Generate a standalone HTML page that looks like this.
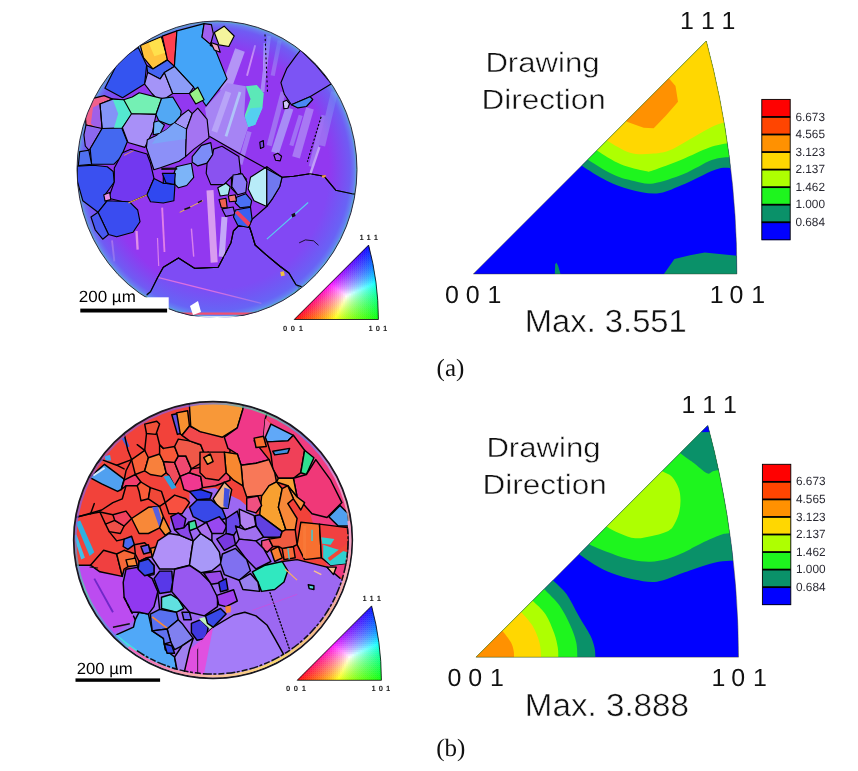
<!DOCTYPE html>
<html lang="en"><head><meta charset="utf-8"><title>EBSD IPF maps and inverse pole figures</title>
<style>
html,body{margin:0;padding:0;background:#fff;}
body{width:858px;height:771px;overflow:hidden;position:relative;}
svg{display:block;position:absolute;left:0;top:0;}
text{text-rendering:geometricPrecision;}
.sans{font-family:"Liberation Sans","DejaVu Sans",sans-serif;}
.serif{font-family:"Liberation Serif","DejaVu Serif",serif;}
</style></head><body>
<svg width="858" height="771" viewBox="0 0 858 771">
<rect x="0" y="0" width="858" height="771" fill="#ffffff"/>
<defs>
<g id="keyfill"><rect x="71" y="-76" width="2.4" height="2.4" fill="#0e00ff"/><rect x="73" y="-76" width="2.4" height="2.4" fill="#0300ff"/><rect x="75" y="-76" width="2.4" height="2.4" fill="#0008ff"/><rect x="69" y="-74" width="2.4" height="2.4" fill="#1900ff"/><rect x="71" y="-74" width="2.4" height="2.4" fill="#1100ff"/><rect x="73" y="-74" width="2.4" height="2.4" fill="#0608ff"/><rect x="75" y="-74" width="2.4" height="2.4" fill="#0012ff"/><rect x="67" y="-72" width="2.4" height="2.4" fill="#2400ff"/><rect x="69" y="-72" width="2.4" height="2.4" fill="#1c00ff"/><rect x="71" y="-72" width="2.4" height="2.4" fill="#1308ff"/><rect x="73" y="-72" width="2.4" height="2.4" fill="#0912ff"/><rect x="75" y="-72" width="2.4" height="2.4" fill="#001bff"/><rect x="65" y="-70" width="2.4" height="2.4" fill="#2e00ff"/><rect x="67" y="-70" width="2.4" height="2.4" fill="#2600ff"/><rect x="69" y="-70" width="2.4" height="2.4" fill="#1f08ff"/><rect x="71" y="-70" width="2.4" height="2.4" fill="#1613ff"/><rect x="73" y="-70" width="2.4" height="2.4" fill="#0c1cff"/><rect x="75" y="-70" width="2.4" height="2.4" fill="#0025ff"/><rect x="77" y="-70" width="2.4" height="2.4" fill="#002cff"/><rect x="63" y="-68" width="2.4" height="2.4" fill="#3800ff"/><rect x="65" y="-68" width="2.4" height="2.4" fill="#3100ff"/><rect x="67" y="-68" width="2.4" height="2.4" fill="#2908ff"/><rect x="69" y="-68" width="2.4" height="2.4" fill="#2113ff"/><rect x="71" y="-68" width="2.4" height="2.4" fill="#191dff"/><rect x="73" y="-68" width="2.4" height="2.4" fill="#0f25ff"/><rect x="75" y="-68" width="2.4" height="2.4" fill="#032dff"/><rect x="77" y="-68" width="2.4" height="2.4" fill="#0035ff"/><rect x="61" y="-66" width="2.4" height="2.4" fill="#4200ff"/><rect x="63" y="-66" width="2.4" height="2.4" fill="#3b00ff"/><rect x="65" y="-66" width="2.4" height="2.4" fill="#3408ff"/><rect x="67" y="-66" width="2.4" height="2.4" fill="#2c14ff"/><rect x="69" y="-66" width="2.4" height="2.4" fill="#241dff"/><rect x="71" y="-66" width="2.4" height="2.4" fill="#1c26ff"/><rect x="73" y="-66" width="2.4" height="2.4" fill="#122fff"/><rect x="75" y="-66" width="2.4" height="2.4" fill="#0736ff"/><rect x="77" y="-66" width="2.4" height="2.4" fill="#003eff"/><rect x="59" y="-64" width="2.4" height="2.4" fill="#4c00ff"/><rect x="61" y="-64" width="2.4" height="2.4" fill="#4500ff"/><rect x="63" y="-64" width="2.4" height="2.4" fill="#3e09ff"/><rect x="65" y="-64" width="2.4" height="2.4" fill="#3714ff"/><rect x="67" y="-64" width="2.4" height="2.4" fill="#2f1eff"/><rect x="69" y="-64" width="2.4" height="2.4" fill="#2727ff"/><rect x="71" y="-64" width="2.4" height="2.4" fill="#1e30ff"/><rect x="73" y="-64" width="2.4" height="2.4" fill="#1538ff"/><rect x="75" y="-64" width="2.4" height="2.4" fill="#0a40ff"/><rect x="77" y="-64" width="2.4" height="2.4" fill="#0047ff"/><rect x="57" y="-62" width="2.4" height="2.4" fill="#5600ff"/><rect x="59" y="-62" width="2.4" height="2.4" fill="#4f00ff"/><rect x="61" y="-62" width="2.4" height="2.4" fill="#4809ff"/><rect x="63" y="-62" width="2.4" height="2.4" fill="#4115ff"/><rect x="65" y="-62" width="2.4" height="2.4" fill="#3a1fff"/><rect x="67" y="-62" width="2.4" height="2.4" fill="#3228ff"/><rect x="69" y="-62" width="2.4" height="2.4" fill="#2a31ff"/><rect x="71" y="-62" width="2.4" height="2.4" fill="#2139ff"/><rect x="73" y="-62" width="2.4" height="2.4" fill="#1841ff"/><rect x="75" y="-62" width="2.4" height="2.4" fill="#0d49ff"/><rect x="77" y="-62" width="2.4" height="2.4" fill="#0050ff"/><rect x="79" y="-62" width="2.4" height="2.4" fill="#0058ff"/><rect x="55" y="-60" width="2.4" height="2.4" fill="#6000ff"/><rect x="57" y="-60" width="2.4" height="2.4" fill="#5a00ff"/><rect x="59" y="-60" width="2.4" height="2.4" fill="#5309ff"/><rect x="61" y="-60" width="2.4" height="2.4" fill="#4c15ff"/><rect x="63" y="-60" width="2.4" height="2.4" fill="#4520ff"/><rect x="65" y="-60" width="2.4" height="2.4" fill="#3d29ff"/><rect x="67" y="-60" width="2.4" height="2.4" fill="#3532ff"/><rect x="69" y="-60" width="2.4" height="2.4" fill="#2d3bff"/><rect x="71" y="-60" width="2.4" height="2.4" fill="#2443ff"/><rect x="73" y="-60" width="2.4" height="2.4" fill="#1b4bff"/><rect x="75" y="-60" width="2.4" height="2.4" fill="#1052ff"/><rect x="77" y="-60" width="2.4" height="2.4" fill="#015aff"/><rect x="79" y="-60" width="2.4" height="2.4" fill="#0061ff"/><rect x="53" y="-58" width="2.4" height="2.4" fill="#6b00ff"/><rect x="55" y="-58" width="2.4" height="2.4" fill="#6500ff"/><rect x="57" y="-58" width="2.4" height="2.4" fill="#5e09ff"/><rect x="59" y="-58" width="2.4" height="2.4" fill="#5716ff"/><rect x="61" y="-58" width="2.4" height="2.4" fill="#5021ff"/><rect x="63" y="-58" width="2.4" height="2.4" fill="#482aff"/><rect x="65" y="-58" width="2.4" height="2.4" fill="#4034ff"/><rect x="67" y="-58" width="2.4" height="2.4" fill="#383cff"/><rect x="69" y="-58" width="2.4" height="2.4" fill="#3045ff"/><rect x="71" y="-58" width="2.4" height="2.4" fill="#274dff"/><rect x="73" y="-58" width="2.4" height="2.4" fill="#1d55ff"/><rect x="75" y="-58" width="2.4" height="2.4" fill="#135cff"/><rect x="77" y="-58" width="2.4" height="2.4" fill="#0564ff"/><rect x="79" y="-58" width="2.4" height="2.4" fill="#006bff"/><rect x="51" y="-56" width="2.4" height="2.4" fill="#7600ff"/><rect x="53" y="-56" width="2.4" height="2.4" fill="#7000ff"/><rect x="55" y="-56" width="2.4" height="2.4" fill="#690aff"/><rect x="57" y="-56" width="2.4" height="2.4" fill="#6217ff"/><rect x="59" y="-56" width="2.4" height="2.4" fill="#5b22ff"/><rect x="61" y="-56" width="2.4" height="2.4" fill="#532cff"/><rect x="63" y="-56" width="2.4" height="2.4" fill="#4c35ff"/><rect x="65" y="-56" width="2.4" height="2.4" fill="#443eff"/><rect x="67" y="-56" width="2.4" height="2.4" fill="#3c47ff"/><rect x="69" y="-56" width="2.4" height="2.4" fill="#334fff"/><rect x="71" y="-56" width="2.4" height="2.4" fill="#2a57ff"/><rect x="73" y="-56" width="2.4" height="2.4" fill="#205fff"/><rect x="75" y="-56" width="2.4" height="2.4" fill="#1667ff"/><rect x="77" y="-56" width="2.4" height="2.4" fill="#096eff"/><rect x="79" y="-56" width="2.4" height="2.4" fill="#0076ff"/><rect x="49" y="-54" width="2.4" height="2.4" fill="#8200ff"/><rect x="51" y="-54" width="2.4" height="2.4" fill="#7b00ff"/><rect x="53" y="-54" width="2.4" height="2.4" fill="#740aff"/><rect x="55" y="-54" width="2.4" height="2.4" fill="#6d17ff"/><rect x="57" y="-54" width="2.4" height="2.4" fill="#6623ff"/><rect x="59" y="-54" width="2.4" height="2.4" fill="#5f2dff"/><rect x="61" y="-54" width="2.4" height="2.4" fill="#5737ff"/><rect x="63" y="-54" width="2.4" height="2.4" fill="#5040ff"/><rect x="65" y="-54" width="2.4" height="2.4" fill="#4849ff"/><rect x="67" y="-54" width="2.4" height="2.4" fill="#3f51ff"/><rect x="69" y="-54" width="2.4" height="2.4" fill="#365aff"/><rect x="71" y="-54" width="2.4" height="2.4" fill="#2d62ff"/><rect x="73" y="-54" width="2.4" height="2.4" fill="#236aff"/><rect x="75" y="-54" width="2.4" height="2.4" fill="#1872ff"/><rect x="77" y="-54" width="2.4" height="2.4" fill="#0c79ff"/><rect x="79" y="-54" width="2.4" height="2.4" fill="#0081ff"/><rect x="47" y="-52" width="2.4" height="2.4" fill="#8e00ff"/><rect x="49" y="-52" width="2.4" height="2.4" fill="#8700ff"/><rect x="51" y="-52" width="2.4" height="2.4" fill="#800aff"/><rect x="53" y="-52" width="2.4" height="2.4" fill="#7918ff"/><rect x="55" y="-52" width="2.4" height="2.4" fill="#7224ff"/><rect x="57" y="-52" width="2.4" height="2.4" fill="#6b2eff"/><rect x="59" y="-52" width="2.4" height="2.4" fill="#6338ff"/><rect x="61" y="-52" width="2.4" height="2.4" fill="#5c42ff"/><rect x="63" y="-52" width="2.4" height="2.4" fill="#544bff"/><rect x="65" y="-52" width="2.4" height="2.4" fill="#4b54ff"/><rect x="67" y="-52" width="2.4" height="2.4" fill="#435cff"/><rect x="69" y="-52" width="2.4" height="2.4" fill="#3a65ff"/><rect x="71" y="-52" width="2.4" height="2.4" fill="#306dff"/><rect x="73" y="-52" width="2.4" height="2.4" fill="#2675ff"/><rect x="75" y="-52" width="2.4" height="2.4" fill="#1b7dff"/><rect x="77" y="-52" width="2.4" height="2.4" fill="#0f85ff"/><rect x="79" y="-52" width="2.4" height="2.4" fill="#008cff"/><rect x="81" y="-52" width="2.4" height="2.4" fill="#0094ff"/><rect x="45" y="-50" width="2.4" height="2.4" fill="#9a00ff"/><rect x="47" y="-50" width="2.4" height="2.4" fill="#9400ff"/><rect x="49" y="-50" width="2.4" height="2.4" fill="#8d0aff"/><rect x="51" y="-50" width="2.4" height="2.4" fill="#8619ff"/><rect x="53" y="-50" width="2.4" height="2.4" fill="#7f25ff"/><rect x="55" y="-50" width="2.4" height="2.4" fill="#7730ff"/><rect x="57" y="-50" width="2.4" height="2.4" fill="#703aff"/><rect x="59" y="-50" width="2.4" height="2.4" fill="#6844ff"/><rect x="61" y="-50" width="2.4" height="2.4" fill="#604dff"/><rect x="63" y="-50" width="2.4" height="2.4" fill="#5856ff"/><rect x="65" y="-50" width="2.4" height="2.4" fill="#4f5fff"/><rect x="67" y="-50" width="2.4" height="2.4" fill="#4768ff"/><rect x="69" y="-50" width="2.4" height="2.4" fill="#3d70ff"/><rect x="71" y="-50" width="2.4" height="2.4" fill="#3479ff"/><rect x="73" y="-50" width="2.4" height="2.4" fill="#2a81ff"/><rect x="75" y="-50" width="2.4" height="2.4" fill="#1e89ff"/><rect x="77" y="-50" width="2.4" height="2.4" fill="#1291ff"/><rect x="79" y="-50" width="2.4" height="2.4" fill="#0098ff"/><rect x="81" y="-50" width="2.4" height="2.4" fill="#00a0ff"/><rect x="43" y="-48" width="2.4" height="2.4" fill="#a700ff"/><rect x="45" y="-48" width="2.4" height="2.4" fill="#a100ff"/><rect x="47" y="-48" width="2.4" height="2.4" fill="#9a0bff"/><rect x="49" y="-48" width="2.4" height="2.4" fill="#9319ff"/><rect x="51" y="-48" width="2.4" height="2.4" fill="#8c26ff"/><rect x="53" y="-48" width="2.4" height="2.4" fill="#8431ff"/><rect x="55" y="-48" width="2.4" height="2.4" fill="#7d3cff"/><rect x="57" y="-48" width="2.4" height="2.4" fill="#7546ff"/><rect x="59" y="-48" width="2.4" height="2.4" fill="#6d50ff"/><rect x="61" y="-48" width="2.4" height="2.4" fill="#6559ff"/><rect x="63" y="-48" width="2.4" height="2.4" fill="#5c62ff"/><rect x="65" y="-48" width="2.4" height="2.4" fill="#546bff"/><rect x="67" y="-48" width="2.4" height="2.4" fill="#4b74ff"/><rect x="69" y="-48" width="2.4" height="2.4" fill="#417dff"/><rect x="71" y="-48" width="2.4" height="2.4" fill="#3785ff"/><rect x="73" y="-48" width="2.4" height="2.4" fill="#2d8dff"/><rect x="75" y="-48" width="2.4" height="2.4" fill="#2195ff"/><rect x="77" y="-48" width="2.4" height="2.4" fill="#159dff"/><rect x="79" y="-48" width="2.4" height="2.4" fill="#05a5ff"/><rect x="81" y="-48" width="2.4" height="2.4" fill="#00adff"/><rect x="41" y="-46" width="2.4" height="2.4" fill="#b500ff"/><rect x="43" y="-46" width="2.4" height="2.4" fill="#ae00ff"/><rect x="45" y="-46" width="2.4" height="2.4" fill="#a70bff"/><rect x="47" y="-46" width="2.4" height="2.4" fill="#a01aff"/><rect x="49" y="-46" width="2.4" height="2.4" fill="#9927ff"/><rect x="51" y="-46" width="2.4" height="2.4" fill="#9233ff"/><rect x="53" y="-46" width="2.4" height="2.4" fill="#8a3eff"/><rect x="55" y="-46" width="2.4" height="2.4" fill="#8249ff"/><rect x="57" y="-46" width="2.4" height="2.4" fill="#7a53ff"/><rect x="59" y="-46" width="2.4" height="2.4" fill="#725cff"/><rect x="61" y="-46" width="2.4" height="2.4" fill="#6a66ff"/><rect x="63" y="-46" width="2.4" height="2.4" fill="#616fff"/><rect x="65" y="-46" width="2.4" height="2.4" fill="#5878ff"/><rect x="67" y="-46" width="2.4" height="2.4" fill="#4f81ff"/><rect x="69" y="-46" width="2.4" height="2.4" fill="#458aff"/><rect x="71" y="-46" width="2.4" height="2.4" fill="#3b92ff"/><rect x="73" y="-46" width="2.4" height="2.4" fill="#309bff"/><rect x="75" y="-46" width="2.4" height="2.4" fill="#25a3ff"/><rect x="77" y="-46" width="2.4" height="2.4" fill="#18abff"/><rect x="79" y="-46" width="2.4" height="2.4" fill="#08b3ff"/><rect x="81" y="-46" width="2.4" height="2.4" fill="#00bbff"/><rect x="39" y="-44" width="2.4" height="2.4" fill="#c400ff"/><rect x="41" y="-44" width="2.4" height="2.4" fill="#bd00ff"/><rect x="43" y="-44" width="2.4" height="2.4" fill="#b60cff"/><rect x="45" y="-44" width="2.4" height="2.4" fill="#af1bff"/><rect x="47" y="-44" width="2.4" height="2.4" fill="#a729ff"/><rect x="49" y="-44" width="2.4" height="2.4" fill="#a035ff"/><rect x="51" y="-44" width="2.4" height="2.4" fill="#9840ff"/><rect x="53" y="-44" width="2.4" height="2.4" fill="#904bff"/><rect x="55" y="-44" width="2.4" height="2.4" fill="#8856ff"/><rect x="57" y="-44" width="2.4" height="2.4" fill="#8060ff"/><rect x="59" y="-44" width="2.4" height="2.4" fill="#786aff"/><rect x="61" y="-44" width="2.4" height="2.4" fill="#6f73ff"/><rect x="63" y="-44" width="2.4" height="2.4" fill="#667cff"/><rect x="65" y="-44" width="2.4" height="2.4" fill="#5d86ff"/><rect x="67" y="-44" width="2.4" height="2.4" fill="#538fff"/><rect x="69" y="-44" width="2.4" height="2.4" fill="#4997ff"/><rect x="71" y="-44" width="2.4" height="2.4" fill="#3fa0ff"/><rect x="73" y="-44" width="2.4" height="2.4" fill="#34a9ff"/><rect x="75" y="-44" width="2.4" height="2.4" fill="#28b1ff"/><rect x="77" y="-44" width="2.4" height="2.4" fill="#1bb9ff"/><rect x="79" y="-44" width="2.4" height="2.4" fill="#0bc2ff"/><rect x="81" y="-44" width="2.4" height="2.4" fill="#00caff"/><rect x="37" y="-42" width="2.4" height="2.4" fill="#d400ff"/><rect x="39" y="-42" width="2.4" height="2.4" fill="#cd00ff"/><rect x="41" y="-42" width="2.4" height="2.4" fill="#c60cff"/><rect x="43" y="-42" width="2.4" height="2.4" fill="#be1cff"/><rect x="45" y="-42" width="2.4" height="2.4" fill="#b72aff"/><rect x="47" y="-42" width="2.4" height="2.4" fill="#af37ff"/><rect x="49" y="-42" width="2.4" height="2.4" fill="#a743ff"/><rect x="51" y="-42" width="2.4" height="2.4" fill="#9f4eff"/><rect x="53" y="-42" width="2.4" height="2.4" fill="#9759ff"/><rect x="55" y="-42" width="2.4" height="2.4" fill="#8f63ff"/><rect x="57" y="-42" width="2.4" height="2.4" fill="#866eff"/><rect x="59" y="-42" width="2.4" height="2.4" fill="#7e77ff"/><rect x="61" y="-42" width="2.4" height="2.4" fill="#7581ff"/><rect x="63" y="-42" width="2.4" height="2.4" fill="#6b8bff"/><rect x="65" y="-42" width="2.4" height="2.4" fill="#6294ff"/><rect x="67" y="-42" width="2.4" height="2.4" fill="#589dff"/><rect x="69" y="-42" width="2.4" height="2.4" fill="#4ea6ff"/><rect x="71" y="-42" width="2.4" height="2.4" fill="#43afff"/><rect x="73" y="-42" width="2.4" height="2.4" fill="#37b8ff"/><rect x="75" y="-42" width="2.4" height="2.4" fill="#2bc0ff"/><rect x="77" y="-42" width="2.4" height="2.4" fill="#1ec9ff"/><rect x="79" y="-42" width="2.4" height="2.4" fill="#0ed1ff"/><rect x="81" y="-42" width="2.4" height="2.4" fill="#00daff"/><rect x="35" y="-40" width="2.4" height="2.4" fill="#e500ff"/><rect x="37" y="-40" width="2.4" height="2.4" fill="#dd00ff"/><rect x="39" y="-40" width="2.4" height="2.4" fill="#d60cff"/><rect x="41" y="-40" width="2.4" height="2.4" fill="#cf1dff"/><rect x="43" y="-40" width="2.4" height="2.4" fill="#c72cff"/><rect x="45" y="-40" width="2.4" height="2.4" fill="#bf39ff"/><rect x="47" y="-40" width="2.4" height="2.4" fill="#b745ff"/><rect x="49" y="-40" width="2.4" height="2.4" fill="#af51ff"/><rect x="51" y="-40" width="2.4" height="2.4" fill="#a75cff"/><rect x="53" y="-40" width="2.4" height="2.4" fill="#9f67ff"/><rect x="55" y="-40" width="2.4" height="2.4" fill="#9672ff"/><rect x="57" y="-40" width="2.4" height="2.4" fill="#8d7cff"/><rect x="59" y="-40" width="2.4" height="2.4" fill="#8486ff"/><rect x="61" y="-40" width="2.4" height="2.4" fill="#7b90ff"/><rect x="63" y="-40" width="2.4" height="2.4" fill="#719aff"/><rect x="65" y="-40" width="2.4" height="2.4" fill="#67a3ff"/><rect x="67" y="-40" width="2.4" height="2.4" fill="#5dadff"/><rect x="69" y="-40" width="2.4" height="2.4" fill="#52b6ff"/><rect x="71" y="-40" width="2.4" height="2.4" fill="#47bfff"/><rect x="73" y="-40" width="2.4" height="2.4" fill="#3bc8ff"/><rect x="75" y="-40" width="2.4" height="2.4" fill="#2fd1ff"/><rect x="77" y="-40" width="2.4" height="2.4" fill="#21daff"/><rect x="79" y="-40" width="2.4" height="2.4" fill="#11e2ff"/><rect x="81" y="-40" width="2.4" height="2.4" fill="#00ebff"/><rect x="83" y="-40" width="2.4" height="2.4" fill="#00f3ff"/><rect x="33" y="-38" width="2.4" height="2.4" fill="#f700ff"/><rect x="35" y="-38" width="2.4" height="2.4" fill="#ef00ff"/><rect x="37" y="-38" width="2.4" height="2.4" fill="#e80dff"/><rect x="39" y="-38" width="2.4" height="2.4" fill="#e01fff"/><rect x="41" y="-38" width="2.4" height="2.4" fill="#d82eff"/><rect x="43" y="-38" width="2.4" height="2.4" fill="#d13bff"/><rect x="45" y="-38" width="2.4" height="2.4" fill="#c848ff"/><rect x="47" y="-38" width="2.4" height="2.4" fill="#c055ff"/><rect x="49" y="-38" width="2.4" height="2.4" fill="#b860ff"/><rect x="51" y="-38" width="2.4" height="2.4" fill="#af6cff"/><rect x="53" y="-38" width="2.4" height="2.4" fill="#a777ff"/><rect x="55" y="-38" width="2.4" height="2.4" fill="#9e81ff"/><rect x="57" y="-38" width="2.4" height="2.4" fill="#948cff"/><rect x="59" y="-38" width="2.4" height="2.4" fill="#8b96ff"/><rect x="61" y="-38" width="2.4" height="2.4" fill="#81a0ff"/><rect x="63" y="-38" width="2.4" height="2.4" fill="#77aaff"/><rect x="65" y="-38" width="2.4" height="2.4" fill="#6db4ff"/><rect x="67" y="-38" width="2.4" height="2.4" fill="#62beff"/><rect x="69" y="-38" width="2.4" height="2.4" fill="#57c7ff"/><rect x="71" y="-38" width="2.4" height="2.4" fill="#4cd0ff"/><rect x="73" y="-38" width="2.4" height="2.4" fill="#40daff"/><rect x="75" y="-38" width="2.4" height="2.4" fill="#33e3ff"/><rect x="77" y="-38" width="2.4" height="2.4" fill="#25ecff"/><rect x="79" y="-38" width="2.4" height="2.4" fill="#15f5ff"/><rect x="81" y="-38" width="2.4" height="2.4" fill="#00feff"/><rect x="83" y="-38" width="2.4" height="2.4" fill="#00fff8"/><rect x="31" y="-36" width="2.4" height="2.4" fill="#ff00f4"/><rect x="33" y="-36" width="2.4" height="2.4" fill="#ff00fb"/><rect x="35" y="-36" width="2.4" height="2.4" fill="#fb0eff"/><rect x="37" y="-36" width="2.4" height="2.4" fill="#f320ff"/><rect x="39" y="-36" width="2.4" height="2.4" fill="#eb30ff"/><rect x="41" y="-36" width="2.4" height="2.4" fill="#e33eff"/><rect x="43" y="-36" width="2.4" height="2.4" fill="#db4bff"/><rect x="45" y="-36" width="2.4" height="2.4" fill="#d358ff"/><rect x="47" y="-36" width="2.4" height="2.4" fill="#ca65ff"/><rect x="49" y="-36" width="2.4" height="2.4" fill="#c170ff"/><rect x="51" y="-36" width="2.4" height="2.4" fill="#b87cff"/><rect x="53" y="-36" width="2.4" height="2.4" fill="#af87ff"/><rect x="55" y="-36" width="2.4" height="2.4" fill="#a692ff"/><rect x="57" y="-36" width="2.4" height="2.4" fill="#9c9dff"/><rect x="59" y="-36" width="2.4" height="2.4" fill="#92a7ff"/><rect x="61" y="-36" width="2.4" height="2.4" fill="#88b2ff"/><rect x="63" y="-36" width="2.4" height="2.4" fill="#7ebcff"/><rect x="65" y="-36" width="2.4" height="2.4" fill="#73c6ff"/><rect x="67" y="-36" width="2.4" height="2.4" fill="#68d0ff"/><rect x="69" y="-36" width="2.4" height="2.4" fill="#5ddaff"/><rect x="71" y="-36" width="2.4" height="2.4" fill="#51e3ff"/><rect x="73" y="-36" width="2.4" height="2.4" fill="#44edff"/><rect x="75" y="-36" width="2.4" height="2.4" fill="#37f6ff"/><rect x="77" y="-36" width="2.4" height="2.4" fill="#28fffe"/><rect x="79" y="-36" width="2.4" height="2.4" fill="#17fff6"/><rect x="81" y="-36" width="2.4" height="2.4" fill="#02ffed"/><rect x="83" y="-36" width="2.4" height="2.4" fill="#00ffe6"/><rect x="29" y="-34" width="2.4" height="2.4" fill="#ff00e2"/><rect x="31" y="-34" width="2.4" height="2.4" fill="#ff00e8"/><rect x="33" y="-34" width="2.4" height="2.4" fill="#ff0def"/><rect x="35" y="-34" width="2.4" height="2.4" fill="#ff20f6"/><rect x="37" y="-34" width="2.4" height="2.4" fill="#ff32fe"/><rect x="39" y="-34" width="2.4" height="2.4" fill="#f841ff"/><rect x="41" y="-34" width="2.4" height="2.4" fill="#ef4fff"/><rect x="43" y="-34" width="2.4" height="2.4" fill="#e65cff"/><rect x="45" y="-34" width="2.4" height="2.4" fill="#de69ff"/><rect x="47" y="-34" width="2.4" height="2.4" fill="#d576ff"/><rect x="49" y="-34" width="2.4" height="2.4" fill="#cc82ff"/><rect x="51" y="-34" width="2.4" height="2.4" fill="#c28eff"/><rect x="53" y="-34" width="2.4" height="2.4" fill="#b999ff"/><rect x="55" y="-34" width="2.4" height="2.4" fill="#afa4ff"/><rect x="57" y="-34" width="2.4" height="2.4" fill="#a5afff"/><rect x="59" y="-34" width="2.4" height="2.4" fill="#9bbaff"/><rect x="61" y="-34" width="2.4" height="2.4" fill="#90c5ff"/><rect x="63" y="-34" width="2.4" height="2.4" fill="#85cfff"/><rect x="65" y="-34" width="2.4" height="2.4" fill="#7adaff"/><rect x="67" y="-34" width="2.4" height="2.4" fill="#6fe4ff"/><rect x="69" y="-34" width="2.4" height="2.4" fill="#63eeff"/><rect x="71" y="-34" width="2.4" height="2.4" fill="#56f8ff"/><rect x="73" y="-34" width="2.4" height="2.4" fill="#48fffc"/><rect x="75" y="-34" width="2.4" height="2.4" fill="#38fff3"/><rect x="77" y="-34" width="2.4" height="2.4" fill="#28ffeb"/><rect x="79" y="-34" width="2.4" height="2.4" fill="#18ffe3"/><rect x="81" y="-34" width="2.4" height="2.4" fill="#05ffdb"/><rect x="83" y="-34" width="2.4" height="2.4" fill="#00ffd5"/><rect x="27" y="-32" width="2.4" height="2.4" fill="#ff00d1"/><rect x="29" y="-32" width="2.4" height="2.4" fill="#ff00d6"/><rect x="31" y="-32" width="2.4" height="2.4" fill="#ff0ddc"/><rect x="33" y="-32" width="2.4" height="2.4" fill="#ff1fe3"/><rect x="35" y="-32" width="2.4" height="2.4" fill="#ff30ea"/><rect x="37" y="-32" width="2.4" height="2.4" fill="#ff40f1"/><rect x="39" y="-32" width="2.4" height="2.4" fill="#ff51f9"/><rect x="41" y="-32" width="2.4" height="2.4" fill="#fc61ff"/><rect x="43" y="-32" width="2.4" height="2.4" fill="#f36fff"/><rect x="45" y="-32" width="2.4" height="2.4" fill="#ea7cff"/><rect x="47" y="-32" width="2.4" height="2.4" fill="#e188ff"/><rect x="49" y="-32" width="2.4" height="2.4" fill="#d795ff"/><rect x="51" y="-32" width="2.4" height="2.4" fill="#cda1ff"/><rect x="53" y="-32" width="2.4" height="2.4" fill="#c3acff"/><rect x="55" y="-32" width="2.4" height="2.4" fill="#b9b8ff"/><rect x="57" y="-32" width="2.4" height="2.4" fill="#aec3ff"/><rect x="59" y="-32" width="2.4" height="2.4" fill="#a4cfff"/><rect x="61" y="-32" width="2.4" height="2.4" fill="#99daff"/><rect x="63" y="-32" width="2.4" height="2.4" fill="#8de5ff"/><rect x="65" y="-32" width="2.4" height="2.4" fill="#82efff"/><rect x="67" y="-32" width="2.4" height="2.4" fill="#76faff"/><rect x="69" y="-32" width="2.4" height="2.4" fill="#67fffa"/><rect x="71" y="-32" width="2.4" height="2.4" fill="#57fff0"/><rect x="73" y="-32" width="2.4" height="2.4" fill="#47ffe7"/><rect x="75" y="-32" width="2.4" height="2.4" fill="#38ffdf"/><rect x="77" y="-32" width="2.4" height="2.4" fill="#29ffd8"/><rect x="79" y="-32" width="2.4" height="2.4" fill="#19ffd1"/><rect x="81" y="-32" width="2.4" height="2.4" fill="#07ffcb"/><rect x="83" y="-32" width="2.4" height="2.4" fill="#00ffc5"/><rect x="25" y="-30" width="2.4" height="2.4" fill="#ff00c1"/><rect x="27" y="-30" width="2.4" height="2.4" fill="#ff00c6"/><rect x="29" y="-30" width="2.4" height="2.4" fill="#ff0dcb"/><rect x="31" y="-30" width="2.4" height="2.4" fill="#ff1ed0"/><rect x="33" y="-30" width="2.4" height="2.4" fill="#ff2ed6"/><rect x="35" y="-30" width="2.4" height="2.4" fill="#ff3edd"/><rect x="37" y="-30" width="2.4" height="2.4" fill="#ff4ee4"/><rect x="39" y="-30" width="2.4" height="2.4" fill="#ff5eeb"/><rect x="41" y="-30" width="2.4" height="2.4" fill="#ff6ff4"/><rect x="43" y="-30" width="2.4" height="2.4" fill="#ff81fd"/><rect x="45" y="-30" width="2.4" height="2.4" fill="#f890ff"/><rect x="47" y="-30" width="2.4" height="2.4" fill="#ee9dff"/><rect x="49" y="-30" width="2.4" height="2.4" fill="#e4a9ff"/><rect x="51" y="-30" width="2.4" height="2.4" fill="#d9b6ff"/><rect x="53" y="-30" width="2.4" height="2.4" fill="#cfc2ff"/><rect x="55" y="-30" width="2.4" height="2.4" fill="#c4ceff"/><rect x="57" y="-30" width="2.4" height="2.4" fill="#b9daff"/><rect x="59" y="-30" width="2.4" height="2.4" fill="#aee5ff"/><rect x="61" y="-30" width="2.4" height="2.4" fill="#a2f1ff"/><rect x="63" y="-30" width="2.4" height="2.4" fill="#96fcff"/><rect x="65" y="-30" width="2.4" height="2.4" fill="#86fff7"/><rect x="67" y="-30" width="2.4" height="2.4" fill="#75ffed"/><rect x="69" y="-30" width="2.4" height="2.4" fill="#64ffe4"/><rect x="71" y="-30" width="2.4" height="2.4" fill="#55ffdc"/><rect x="73" y="-30" width="2.4" height="2.4" fill="#46ffd4"/><rect x="75" y="-30" width="2.4" height="2.4" fill="#37ffcd"/><rect x="77" y="-30" width="2.4" height="2.4" fill="#29ffc6"/><rect x="79" y="-30" width="2.4" height="2.4" fill="#1affc0"/><rect x="81" y="-30" width="2.4" height="2.4" fill="#09ffbb"/><rect x="83" y="-30" width="2.4" height="2.4" fill="#00ffb5"/><rect x="23" y="-28" width="2.4" height="2.4" fill="#ff00b1"/><rect x="25" y="-28" width="2.4" height="2.4" fill="#ff00b6"/><rect x="27" y="-28" width="2.4" height="2.4" fill="#ff0cba"/><rect x="29" y="-28" width="2.4" height="2.4" fill="#ff1dbf"/><rect x="31" y="-28" width="2.4" height="2.4" fill="#ff2dc4"/><rect x="33" y="-28" width="2.4" height="2.4" fill="#ff3cca"/><rect x="35" y="-28" width="2.4" height="2.4" fill="#ff4bd0"/><rect x="37" y="-28" width="2.4" height="2.4" fill="#ff5bd7"/><rect x="39" y="-28" width="2.4" height="2.4" fill="#ff6bde"/><rect x="41" y="-28" width="2.4" height="2.4" fill="#ff7ce6"/><rect x="43" y="-28" width="2.4" height="2.4" fill="#ff8eee"/><rect x="45" y="-28" width="2.4" height="2.4" fill="#ffa0f7"/><rect x="47" y="-28" width="2.4" height="2.4" fill="#fdb3ff"/><rect x="49" y="-28" width="2.4" height="2.4" fill="#f2c0ff"/><rect x="51" y="-28" width="2.4" height="2.4" fill="#e7cdff"/><rect x="53" y="-28" width="2.4" height="2.4" fill="#dcdaff"/><rect x="55" y="-28" width="2.4" height="2.4" fill="#d1e6ff"/><rect x="57" y="-28" width="2.4" height="2.4" fill="#c5f2ff"/><rect x="59" y="-28" width="2.4" height="2.4" fill="#b9ffff"/><rect x="61" y="-28" width="2.4" height="2.4" fill="#a5fff4"/><rect x="63" y="-28" width="2.4" height="2.4" fill="#93ffea"/><rect x="65" y="-28" width="2.4" height="2.4" fill="#82ffe0"/><rect x="67" y="-28" width="2.4" height="2.4" fill="#71ffd8"/><rect x="69" y="-28" width="2.4" height="2.4" fill="#62ffd0"/><rect x="71" y="-28" width="2.4" height="2.4" fill="#53ffc9"/><rect x="73" y="-28" width="2.4" height="2.4" fill="#45ffc2"/><rect x="75" y="-28" width="2.4" height="2.4" fill="#37ffbc"/><rect x="77" y="-28" width="2.4" height="2.4" fill="#29ffb6"/><rect x="79" y="-28" width="2.4" height="2.4" fill="#1bffb0"/><rect x="81" y="-28" width="2.4" height="2.4" fill="#0bffab"/><rect x="83" y="-28" width="2.4" height="2.4" fill="#00ffa7"/><rect x="21" y="-26" width="2.4" height="2.4" fill="#ff00a3"/><rect x="23" y="-26" width="2.4" height="2.4" fill="#ff00a7"/><rect x="25" y="-26" width="2.4" height="2.4" fill="#ff0cab"/><rect x="27" y="-26" width="2.4" height="2.4" fill="#ff1daf"/><rect x="29" y="-26" width="2.4" height="2.4" fill="#ff2cb4"/><rect x="31" y="-26" width="2.4" height="2.4" fill="#ff3ab8"/><rect x="33" y="-26" width="2.4" height="2.4" fill="#ff49be"/><rect x="35" y="-26" width="2.4" height="2.4" fill="#ff58c3"/><rect x="37" y="-26" width="2.4" height="2.4" fill="#ff67c9"/><rect x="39" y="-26" width="2.4" height="2.4" fill="#ff77d0"/><rect x="41" y="-26" width="2.4" height="2.4" fill="#ff88d7"/><rect x="43" y="-26" width="2.4" height="2.4" fill="#ff9adf"/><rect x="45" y="-26" width="2.4" height="2.4" fill="#ffade8"/><rect x="47" y="-26" width="2.4" height="2.4" fill="#ffc1f1"/><rect x="49" y="-26" width="2.4" height="2.4" fill="#ffd7fc"/><rect x="51" y="-26" width="2.4" height="2.4" fill="#f7e7ff"/><rect x="53" y="-26" width="2.4" height="2.4" fill="#ebf4ff"/><rect x="55" y="-26" width="2.4" height="2.4" fill="#ddfffd"/><rect x="57" y="-26" width="2.4" height="2.4" fill="#c6fff1"/><rect x="59" y="-26" width="2.4" height="2.4" fill="#b2ffe6"/><rect x="61" y="-26" width="2.4" height="2.4" fill="#9fffdc"/><rect x="63" y="-26" width="2.4" height="2.4" fill="#8effd3"/><rect x="65" y="-26" width="2.4" height="2.4" fill="#7effcb"/><rect x="67" y="-26" width="2.4" height="2.4" fill="#6effc4"/><rect x="69" y="-26" width="2.4" height="2.4" fill="#5fffbd"/><rect x="71" y="-26" width="2.4" height="2.4" fill="#51ffb7"/><rect x="73" y="-26" width="2.4" height="2.4" fill="#44ffb1"/><rect x="75" y="-26" width="2.4" height="2.4" fill="#36ffab"/><rect x="77" y="-26" width="2.4" height="2.4" fill="#29ffa6"/><rect x="79" y="-26" width="2.4" height="2.4" fill="#1bffa1"/><rect x="81" y="-26" width="2.4" height="2.4" fill="#0cff9d"/><rect x="83" y="-26" width="2.4" height="2.4" fill="#00ff99"/><rect x="19" y="-24" width="2.4" height="2.4" fill="#ff0095"/><rect x="21" y="-24" width="2.4" height="2.4" fill="#ff0098"/><rect x="23" y="-24" width="2.4" height="2.4" fill="#ff0c9c"/><rect x="25" y="-24" width="2.4" height="2.4" fill="#ff1ca0"/><rect x="27" y="-24" width="2.4" height="2.4" fill="#ff2aa4"/><rect x="29" y="-24" width="2.4" height="2.4" fill="#ff39a8"/><rect x="31" y="-24" width="2.4" height="2.4" fill="#ff47ac"/><rect x="33" y="-24" width="2.4" height="2.4" fill="#ff55b1"/><rect x="35" y="-24" width="2.4" height="2.4" fill="#ff64b7"/><rect x="37" y="-24" width="2.4" height="2.4" fill="#ff73bc"/><rect x="39" y="-24" width="2.4" height="2.4" fill="#ff83c2"/><rect x="41" y="-24" width="2.4" height="2.4" fill="#ff94c9"/><rect x="43" y="-24" width="2.4" height="2.4" fill="#ffa6d0"/><rect x="45" y="-24" width="2.4" height="2.4" fill="#ffb9d8"/><rect x="47" y="-24" width="2.4" height="2.4" fill="#ffcde1"/><rect x="49" y="-24" width="2.4" height="2.4" fill="#ffe3eb"/><rect x="51" y="-24" width="2.4" height="2.4" fill="#fffcf6"/><rect x="53" y="-24" width="2.4" height="2.4" fill="#eaffed"/><rect x="55" y="-24" width="2.4" height="2.4" fill="#d3ffe1"/><rect x="57" y="-24" width="2.4" height="2.4" fill="#bfffd7"/><rect x="59" y="-24" width="2.4" height="2.4" fill="#acffce"/><rect x="61" y="-24" width="2.4" height="2.4" fill="#9affc6"/><rect x="63" y="-24" width="2.4" height="2.4" fill="#8affbe"/><rect x="65" y="-24" width="2.4" height="2.4" fill="#7affb7"/><rect x="67" y="-24" width="2.4" height="2.4" fill="#6bffb1"/><rect x="69" y="-24" width="2.4" height="2.4" fill="#5dffab"/><rect x="71" y="-24" width="2.4" height="2.4" fill="#50ffa6"/><rect x="73" y="-24" width="2.4" height="2.4" fill="#43ffa0"/><rect x="75" y="-24" width="2.4" height="2.4" fill="#36ff9c"/><rect x="77" y="-24" width="2.4" height="2.4" fill="#29ff97"/><rect x="79" y="-24" width="2.4" height="2.4" fill="#1bff93"/><rect x="81" y="-24" width="2.4" height="2.4" fill="#0dff8f"/><rect x="83" y="-24" width="2.4" height="2.4" fill="#00ff8c"/><rect x="17" y="-22" width="2.4" height="2.4" fill="#ff0088"/><rect x="19" y="-22" width="2.4" height="2.4" fill="#ff008a"/><rect x="21" y="-22" width="2.4" height="2.4" fill="#ff0b8e"/><rect x="23" y="-22" width="2.4" height="2.4" fill="#ff1b91"/><rect x="25" y="-22" width="2.4" height="2.4" fill="#ff2994"/><rect x="27" y="-22" width="2.4" height="2.4" fill="#ff3798"/><rect x="29" y="-22" width="2.4" height="2.4" fill="#ff459c"/><rect x="31" y="-22" width="2.4" height="2.4" fill="#ff53a0"/><rect x="33" y="-22" width="2.4" height="2.4" fill="#ff61a5"/><rect x="35" y="-22" width="2.4" height="2.4" fill="#ff6faa"/><rect x="37" y="-22" width="2.4" height="2.4" fill="#ff7faf"/><rect x="39" y="-22" width="2.4" height="2.4" fill="#ff8fb5"/><rect x="41" y="-22" width="2.4" height="2.4" fill="#ff9fbb"/><rect x="43" y="-22" width="2.4" height="2.4" fill="#ffb1c2"/><rect x="45" y="-22" width="2.4" height="2.4" fill="#ffc5c9"/><rect x="47" y="-22" width="2.4" height="2.4" fill="#ffd9d1"/><rect x="49" y="-22" width="2.4" height="2.4" fill="#fff0da"/><rect x="51" y="-22" width="2.4" height="2.4" fill="#f6ffdc"/><rect x="53" y="-22" width="2.4" height="2.4" fill="#dfffd2"/><rect x="55" y="-22" width="2.4" height="2.4" fill="#cbffc9"/><rect x="57" y="-22" width="2.4" height="2.4" fill="#b7ffc0"/><rect x="59" y="-22" width="2.4" height="2.4" fill="#a6ffb8"/><rect x="61" y="-22" width="2.4" height="2.4" fill="#95ffb1"/><rect x="63" y="-22" width="2.4" height="2.4" fill="#85ffab"/><rect x="65" y="-22" width="2.4" height="2.4" fill="#77ffa5"/><rect x="67" y="-22" width="2.4" height="2.4" fill="#69ff9f"/><rect x="69" y="-22" width="2.4" height="2.4" fill="#5bff9a"/><rect x="71" y="-22" width="2.4" height="2.4" fill="#4eff96"/><rect x="73" y="-22" width="2.4" height="2.4" fill="#41ff91"/><rect x="75" y="-22" width="2.4" height="2.4" fill="#35ff8d"/><rect x="77" y="-22" width="2.4" height="2.4" fill="#28ff89"/><rect x="79" y="-22" width="2.4" height="2.4" fill="#1cff85"/><rect x="81" y="-22" width="2.4" height="2.4" fill="#0eff82"/><rect x="83" y="-22" width="2.4" height="2.4" fill="#00ff7f"/><rect x="15" y="-20" width="2.4" height="2.4" fill="#ff007b"/><rect x="17" y="-20" width="2.4" height="2.4" fill="#ff007d"/><rect x="19" y="-20" width="2.4" height="2.4" fill="#ff0b80"/><rect x="21" y="-20" width="2.4" height="2.4" fill="#ff1a83"/><rect x="23" y="-20" width="2.4" height="2.4" fill="#ff2886"/><rect x="25" y="-20" width="2.4" height="2.4" fill="#ff3689"/><rect x="27" y="-20" width="2.4" height="2.4" fill="#ff438c"/><rect x="29" y="-20" width="2.4" height="2.4" fill="#ff5090"/><rect x="31" y="-20" width="2.4" height="2.4" fill="#ff5e94"/><rect x="33" y="-20" width="2.4" height="2.4" fill="#ff6c98"/><rect x="35" y="-20" width="2.4" height="2.4" fill="#ff7a9c"/><rect x="37" y="-20" width="2.4" height="2.4" fill="#ff8aa1"/><rect x="39" y="-20" width="2.4" height="2.4" fill="#ff9aa7"/><rect x="41" y="-20" width="2.4" height="2.4" fill="#ffabac"/><rect x="43" y="-20" width="2.4" height="2.4" fill="#ffbdb2"/><rect x="45" y="-20" width="2.4" height="2.4" fill="#ffd0b9"/><rect x="47" y="-20" width="2.4" height="2.4" fill="#ffe5c1"/><rect x="49" y="-20" width="2.4" height="2.4" fill="#fffcc9"/><rect x="51" y="-20" width="2.4" height="2.4" fill="#ebffc2"/><rect x="53" y="-20" width="2.4" height="2.4" fill="#d6ffb9"/><rect x="55" y="-20" width="2.4" height="2.4" fill="#c3ffb2"/><rect x="57" y="-20" width="2.4" height="2.4" fill="#b1ffaa"/><rect x="59" y="-20" width="2.4" height="2.4" fill="#a0ffa4"/><rect x="61" y="-20" width="2.4" height="2.4" fill="#90ff9e"/><rect x="63" y="-20" width="2.4" height="2.4" fill="#81ff98"/><rect x="65" y="-20" width="2.4" height="2.4" fill="#73ff93"/><rect x="67" y="-20" width="2.4" height="2.4" fill="#66ff8f"/><rect x="69" y="-20" width="2.4" height="2.4" fill="#59ff8a"/><rect x="71" y="-20" width="2.4" height="2.4" fill="#4dff86"/><rect x="73" y="-20" width="2.4" height="2.4" fill="#40ff82"/><rect x="75" y="-20" width="2.4" height="2.4" fill="#34ff7f"/><rect x="77" y="-20" width="2.4" height="2.4" fill="#28ff7b"/><rect x="79" y="-20" width="2.4" height="2.4" fill="#1cff78"/><rect x="81" y="-20" width="2.4" height="2.4" fill="#0eff75"/><rect x="83" y="-20" width="2.4" height="2.4" fill="#00ff72"/><rect x="85" y="-20" width="2.4" height="2.4" fill="#00ff70"/><rect x="13" y="-18" width="2.4" height="2.4" fill="#ff006e"/><rect x="15" y="-18" width="2.4" height="2.4" fill="#ff0070"/><rect x="17" y="-18" width="2.4" height="2.4" fill="#ff0b73"/><rect x="19" y="-18" width="2.4" height="2.4" fill="#ff1a75"/><rect x="21" y="-18" width="2.4" height="2.4" fill="#ff2778"/><rect x="23" y="-18" width="2.4" height="2.4" fill="#ff347a"/><rect x="25" y="-18" width="2.4" height="2.4" fill="#ff417d"/><rect x="27" y="-18" width="2.4" height="2.4" fill="#ff4e80"/><rect x="29" y="-18" width="2.4" height="2.4" fill="#ff5b84"/><rect x="31" y="-18" width="2.4" height="2.4" fill="#ff6987"/><rect x="33" y="-18" width="2.4" height="2.4" fill="#ff778b"/><rect x="35" y="-18" width="2.4" height="2.4" fill="#ff858f"/><rect x="37" y="-18" width="2.4" height="2.4" fill="#ff9594"/><rect x="39" y="-18" width="2.4" height="2.4" fill="#ffa598"/><rect x="41" y="-18" width="2.4" height="2.4" fill="#ffb69e"/><rect x="43" y="-18" width="2.4" height="2.4" fill="#ffc8a3"/><rect x="45" y="-18" width="2.4" height="2.4" fill="#ffdba9"/><rect x="47" y="-18" width="2.4" height="2.4" fill="#fff0b0"/><rect x="49" y="-18" width="2.4" height="2.4" fill="#f7ffb2"/><rect x="51" y="-18" width="2.4" height="2.4" fill="#e2ffaa"/><rect x="53" y="-18" width="2.4" height="2.4" fill="#ceffa3"/><rect x="55" y="-18" width="2.4" height="2.4" fill="#bcff9c"/><rect x="57" y="-18" width="2.4" height="2.4" fill="#abff96"/><rect x="59" y="-18" width="2.4" height="2.4" fill="#9bff91"/><rect x="61" y="-18" width="2.4" height="2.4" fill="#8cff8c"/><rect x="63" y="-18" width="2.4" height="2.4" fill="#7eff87"/><rect x="65" y="-18" width="2.4" height="2.4" fill="#70ff83"/><rect x="67" y="-18" width="2.4" height="2.4" fill="#63ff7f"/><rect x="69" y="-18" width="2.4" height="2.4" fill="#57ff7b"/><rect x="71" y="-18" width="2.4" height="2.4" fill="#4bff78"/><rect x="73" y="-18" width="2.4" height="2.4" fill="#3fff74"/><rect x="75" y="-18" width="2.4" height="2.4" fill="#34ff71"/><rect x="77" y="-18" width="2.4" height="2.4" fill="#28ff6e"/><rect x="79" y="-18" width="2.4" height="2.4" fill="#1cff6c"/><rect x="81" y="-18" width="2.4" height="2.4" fill="#0fff69"/><rect x="83" y="-18" width="2.4" height="2.4" fill="#00ff66"/><rect x="85" y="-18" width="2.4" height="2.4" fill="#00ff64"/><rect x="11" y="-16" width="2.4" height="2.4" fill="#ff0062"/><rect x="13" y="-16" width="2.4" height="2.4" fill="#ff0064"/><rect x="15" y="-16" width="2.4" height="2.4" fill="#ff0a66"/><rect x="17" y="-16" width="2.4" height="2.4" fill="#ff1968"/><rect x="19" y="-16" width="2.4" height="2.4" fill="#ff266a"/><rect x="21" y="-16" width="2.4" height="2.4" fill="#ff336c"/><rect x="23" y="-16" width="2.4" height="2.4" fill="#ff3f6f"/><rect x="25" y="-16" width="2.4" height="2.4" fill="#ff4c71"/><rect x="27" y="-16" width="2.4" height="2.4" fill="#ff5974"/><rect x="29" y="-16" width="2.4" height="2.4" fill="#ff6677"/><rect x="31" y="-16" width="2.4" height="2.4" fill="#ff737a"/><rect x="33" y="-16" width="2.4" height="2.4" fill="#ff817e"/><rect x="35" y="-16" width="2.4" height="2.4" fill="#ff9082"/><rect x="37" y="-16" width="2.4" height="2.4" fill="#ff9f86"/><rect x="39" y="-16" width="2.4" height="2.4" fill="#ffaf8a"/><rect x="41" y="-16" width="2.4" height="2.4" fill="#ffc08f"/><rect x="43" y="-16" width="2.4" height="2.4" fill="#ffd394"/><rect x="45" y="-16" width="2.4" height="2.4" fill="#ffe799"/><rect x="47" y="-16" width="2.4" height="2.4" fill="#fffc9f"/><rect x="49" y="-16" width="2.4" height="2.4" fill="#edff9a"/><rect x="51" y="-16" width="2.4" height="2.4" fill="#d9ff94"/><rect x="53" y="-16" width="2.4" height="2.4" fill="#c6ff8e"/><rect x="55" y="-16" width="2.4" height="2.4" fill="#b5ff88"/><rect x="57" y="-16" width="2.4" height="2.4" fill="#a5ff83"/><rect x="59" y="-16" width="2.4" height="2.4" fill="#96ff7f"/><rect x="61" y="-16" width="2.4" height="2.4" fill="#88ff7b"/><rect x="63" y="-16" width="2.4" height="2.4" fill="#7aff77"/><rect x="65" y="-16" width="2.4" height="2.4" fill="#6dff73"/><rect x="67" y="-16" width="2.4" height="2.4" fill="#61ff70"/><rect x="69" y="-16" width="2.4" height="2.4" fill="#55ff6c"/><rect x="71" y="-16" width="2.4" height="2.4" fill="#49ff69"/><rect x="73" y="-16" width="2.4" height="2.4" fill="#3eff67"/><rect x="75" y="-16" width="2.4" height="2.4" fill="#33ff64"/><rect x="77" y="-16" width="2.4" height="2.4" fill="#27ff62"/><rect x="79" y="-16" width="2.4" height="2.4" fill="#1cff5f"/><rect x="81" y="-16" width="2.4" height="2.4" fill="#0fff5d"/><rect x="83" y="-16" width="2.4" height="2.4" fill="#00ff5b"/><rect x="85" y="-16" width="2.4" height="2.4" fill="#00ff59"/><rect x="9" y="-14" width="2.4" height="2.4" fill="#ff0056"/><rect x="11" y="-14" width="2.4" height="2.4" fill="#ff0057"/><rect x="13" y="-14" width="2.4" height="2.4" fill="#ff0a59"/><rect x="15" y="-14" width="2.4" height="2.4" fill="#ff195b"/><rect x="17" y="-14" width="2.4" height="2.4" fill="#ff265d"/><rect x="19" y="-14" width="2.4" height="2.4" fill="#ff325f"/><rect x="21" y="-14" width="2.4" height="2.4" fill="#ff3e61"/><rect x="23" y="-14" width="2.4" height="2.4" fill="#ff4a63"/><rect x="25" y="-14" width="2.4" height="2.4" fill="#ff5665"/><rect x="27" y="-14" width="2.4" height="2.4" fill="#ff6368"/><rect x="29" y="-14" width="2.4" height="2.4" fill="#ff706a"/><rect x="31" y="-14" width="2.4" height="2.4" fill="#ff7d6d"/><rect x="33" y="-14" width="2.4" height="2.4" fill="#ff8b70"/><rect x="35" y="-14" width="2.4" height="2.4" fill="#ff9a74"/><rect x="37" y="-14" width="2.4" height="2.4" fill="#ffaa77"/><rect x="39" y="-14" width="2.4" height="2.4" fill="#ffba7b"/><rect x="41" y="-14" width="2.4" height="2.4" fill="#ffcb7f"/><rect x="43" y="-14" width="2.4" height="2.4" fill="#ffde84"/><rect x="45" y="-14" width="2.4" height="2.4" fill="#fff289"/><rect x="47" y="-14" width="2.4" height="2.4" fill="#f7ff8a"/><rect x="49" y="-14" width="2.4" height="2.4" fill="#e3ff84"/><rect x="51" y="-14" width="2.4" height="2.4" fill="#d0ff7f"/><rect x="53" y="-14" width="2.4" height="2.4" fill="#bfff7a"/><rect x="55" y="-14" width="2.4" height="2.4" fill="#afff75"/><rect x="57" y="-14" width="2.4" height="2.4" fill="#a0ff71"/><rect x="59" y="-14" width="2.4" height="2.4" fill="#92ff6e"/><rect x="61" y="-14" width="2.4" height="2.4" fill="#84ff6a"/><rect x="63" y="-14" width="2.4" height="2.4" fill="#77ff67"/><rect x="65" y="-14" width="2.4" height="2.4" fill="#6bff64"/><rect x="67" y="-14" width="2.4" height="2.4" fill="#5fff61"/><rect x="69" y="-14" width="2.4" height="2.4" fill="#53ff5e"/><rect x="71" y="-14" width="2.4" height="2.4" fill="#48ff5c"/><rect x="73" y="-14" width="2.4" height="2.4" fill="#3dff59"/><rect x="75" y="-14" width="2.4" height="2.4" fill="#32ff57"/><rect x="77" y="-14" width="2.4" height="2.4" fill="#27ff55"/><rect x="79" y="-14" width="2.4" height="2.4" fill="#1cff53"/><rect x="81" y="-14" width="2.4" height="2.4" fill="#10ff51"/><rect x="83" y="-14" width="2.4" height="2.4" fill="#00ff4f"/><rect x="85" y="-14" width="2.4" height="2.4" fill="#00ff4e"/><rect x="7" y="-12" width="2.4" height="2.4" fill="#ff004a"/><rect x="9" y="-12" width="2.4" height="2.4" fill="#ff004b"/><rect x="11" y="-12" width="2.4" height="2.4" fill="#ff0a4d"/><rect x="13" y="-12" width="2.4" height="2.4" fill="#ff184e"/><rect x="15" y="-12" width="2.4" height="2.4" fill="#ff2550"/><rect x="17" y="-12" width="2.4" height="2.4" fill="#ff3151"/><rect x="19" y="-12" width="2.4" height="2.4" fill="#ff3d53"/><rect x="21" y="-12" width="2.4" height="2.4" fill="#ff4855"/><rect x="23" y="-12" width="2.4" height="2.4" fill="#ff5457"/><rect x="25" y="-12" width="2.4" height="2.4" fill="#ff6159"/><rect x="27" y="-12" width="2.4" height="2.4" fill="#ff6d5b"/><rect x="29" y="-12" width="2.4" height="2.4" fill="#ff7a5d"/><rect x="31" y="-12" width="2.4" height="2.4" fill="#ff8760"/><rect x="33" y="-12" width="2.4" height="2.4" fill="#ff9562"/><rect x="35" y="-12" width="2.4" height="2.4" fill="#ffa465"/><rect x="37" y="-12" width="2.4" height="2.4" fill="#ffb468"/><rect x="39" y="-12" width="2.4" height="2.4" fill="#ffc46c"/><rect x="41" y="-12" width="2.4" height="2.4" fill="#ffd670"/><rect x="43" y="-12" width="2.4" height="2.4" fill="#ffe874"/><rect x="45" y="-12" width="2.4" height="2.4" fill="#fffc78"/><rect x="47" y="-12" width="2.4" height="2.4" fill="#edff74"/><rect x="49" y="-12" width="2.4" height="2.4" fill="#daff6f"/><rect x="51" y="-12" width="2.4" height="2.4" fill="#c9ff6b"/><rect x="53" y="-12" width="2.4" height="2.4" fill="#b9ff67"/><rect x="55" y="-12" width="2.4" height="2.4" fill="#a9ff64"/><rect x="57" y="-12" width="2.4" height="2.4" fill="#9bff60"/><rect x="59" y="-12" width="2.4" height="2.4" fill="#8dff5d"/><rect x="61" y="-12" width="2.4" height="2.4" fill="#80ff5a"/><rect x="63" y="-12" width="2.4" height="2.4" fill="#74ff58"/><rect x="65" y="-12" width="2.4" height="2.4" fill="#68ff55"/><rect x="67" y="-12" width="2.4" height="2.4" fill="#5dff53"/><rect x="69" y="-12" width="2.4" height="2.4" fill="#51ff51"/><rect x="71" y="-12" width="2.4" height="2.4" fill="#47ff4f"/><rect x="73" y="-12" width="2.4" height="2.4" fill="#3cff4d"/><rect x="75" y="-12" width="2.4" height="2.4" fill="#31ff4b"/><rect x="77" y="-12" width="2.4" height="2.4" fill="#26ff49"/><rect x="79" y="-12" width="2.4" height="2.4" fill="#1bff47"/><rect x="81" y="-12" width="2.4" height="2.4" fill="#10ff46"/><rect x="83" y="-12" width="2.4" height="2.4" fill="#00ff44"/><rect x="85" y="-12" width="2.4" height="2.4" fill="#00ff43"/><rect x="5" y="-10" width="2.4" height="2.4" fill="#ff003e"/><rect x="7" y="-10" width="2.4" height="2.4" fill="#ff003f"/><rect x="9" y="-10" width="2.4" height="2.4" fill="#ff0a40"/><rect x="11" y="-10" width="2.4" height="2.4" fill="#ff1841"/><rect x="13" y="-10" width="2.4" height="2.4" fill="#ff2443"/><rect x="15" y="-10" width="2.4" height="2.4" fill="#ff3044"/><rect x="17" y="-10" width="2.4" height="2.4" fill="#ff3b45"/><rect x="19" y="-10" width="2.4" height="2.4" fill="#ff4747"/><rect x="21" y="-10" width="2.4" height="2.4" fill="#ff5248"/><rect x="23" y="-10" width="2.4" height="2.4" fill="#ff5e4a"/><rect x="25" y="-10" width="2.4" height="2.4" fill="#ff6a4c"/><rect x="27" y="-10" width="2.4" height="2.4" fill="#ff774e"/><rect x="29" y="-10" width="2.4" height="2.4" fill="#ff8450"/><rect x="31" y="-10" width="2.4" height="2.4" fill="#ff9152"/><rect x="33" y="-10" width="2.4" height="2.4" fill="#ff9f54"/><rect x="35" y="-10" width="2.4" height="2.4" fill="#ffae57"/><rect x="37" y="-10" width="2.4" height="2.4" fill="#ffbe59"/><rect x="39" y="-10" width="2.4" height="2.4" fill="#ffce5c"/><rect x="41" y="-10" width="2.4" height="2.4" fill="#ffe05f"/><rect x="43" y="-10" width="2.4" height="2.4" fill="#fff363"/><rect x="45" y="-10" width="2.4" height="2.4" fill="#f7ff63"/><rect x="47" y="-10" width="2.4" height="2.4" fill="#e4ff5f"/><rect x="49" y="-10" width="2.4" height="2.4" fill="#d2ff5c"/><rect x="51" y="-10" width="2.4" height="2.4" fill="#c2ff58"/><rect x="53" y="-10" width="2.4" height="2.4" fill="#b2ff55"/><rect x="55" y="-10" width="2.4" height="2.4" fill="#a4ff52"/><rect x="57" y="-10" width="2.4" height="2.4" fill="#96ff50"/><rect x="59" y="-10" width="2.4" height="2.4" fill="#89ff4d"/><rect x="61" y="-10" width="2.4" height="2.4" fill="#7dff4b"/><rect x="63" y="-10" width="2.4" height="2.4" fill="#71ff49"/><rect x="65" y="-10" width="2.4" height="2.4" fill="#65ff47"/><rect x="67" y="-10" width="2.4" height="2.4" fill="#5aff45"/><rect x="69" y="-10" width="2.4" height="2.4" fill="#50ff43"/><rect x="71" y="-10" width="2.4" height="2.4" fill="#45ff41"/><rect x="73" y="-10" width="2.4" height="2.4" fill="#3bff40"/><rect x="75" y="-10" width="2.4" height="2.4" fill="#30ff3e"/><rect x="77" y="-10" width="2.4" height="2.4" fill="#26ff3d"/><rect x="79" y="-10" width="2.4" height="2.4" fill="#1bff3c"/><rect x="81" y="-10" width="2.4" height="2.4" fill="#10ff3a"/><rect x="83" y="-10" width="2.4" height="2.4" fill="#01ff39"/><rect x="85" y="-10" width="2.4" height="2.4" fill="#00ff38"/><rect x="3" y="-8" width="2.4" height="2.4" fill="#ff0032"/><rect x="5" y="-8" width="2.4" height="2.4" fill="#ff0033"/><rect x="7" y="-8" width="2.4" height="2.4" fill="#ff0a34"/><rect x="9" y="-8" width="2.4" height="2.4" fill="#ff1735"/><rect x="11" y="-8" width="2.4" height="2.4" fill="#ff2336"/><rect x="13" y="-8" width="2.4" height="2.4" fill="#ff2f37"/><rect x="15" y="-8" width="2.4" height="2.4" fill="#ff3a38"/><rect x="17" y="-8" width="2.4" height="2.4" fill="#ff4539"/><rect x="19" y="-8" width="2.4" height="2.4" fill="#ff513a"/><rect x="21" y="-8" width="2.4" height="2.4" fill="#ff5c3b"/><rect x="23" y="-8" width="2.4" height="2.4" fill="#ff683d"/><rect x="25" y="-8" width="2.4" height="2.4" fill="#ff743e"/><rect x="27" y="-8" width="2.4" height="2.4" fill="#ff8040"/><rect x="29" y="-8" width="2.4" height="2.4" fill="#ff8d41"/><rect x="31" y="-8" width="2.4" height="2.4" fill="#ff9b43"/><rect x="33" y="-8" width="2.4" height="2.4" fill="#ffa945"/><rect x="35" y="-8" width="2.4" height="2.4" fill="#ffb847"/><rect x="37" y="-8" width="2.4" height="2.4" fill="#ffc849"/><rect x="39" y="-8" width="2.4" height="2.4" fill="#ffd84c"/><rect x="41" y="-8" width="2.4" height="2.4" fill="#ffea4e"/><rect x="43" y="-8" width="2.4" height="2.4" fill="#fffd51"/><rect x="45" y="-8" width="2.4" height="2.4" fill="#edff4e"/><rect x="47" y="-8" width="2.4" height="2.4" fill="#dcff4b"/><rect x="49" y="-8" width="2.4" height="2.4" fill="#cbff48"/><rect x="51" y="-8" width="2.4" height="2.4" fill="#bbff46"/><rect x="53" y="-8" width="2.4" height="2.4" fill="#adff44"/><rect x="55" y="-8" width="2.4" height="2.4" fill="#9fff41"/><rect x="57" y="-8" width="2.4" height="2.4" fill="#92ff3f"/><rect x="59" y="-8" width="2.4" height="2.4" fill="#85ff3e"/><rect x="61" y="-8" width="2.4" height="2.4" fill="#7aff3c"/><rect x="63" y="-8" width="2.4" height="2.4" fill="#6eff3a"/><rect x="65" y="-8" width="2.4" height="2.4" fill="#63ff39"/><rect x="67" y="-8" width="2.4" height="2.4" fill="#58ff37"/><rect x="69" y="-8" width="2.4" height="2.4" fill="#4eff36"/><rect x="71" y="-8" width="2.4" height="2.4" fill="#44ff35"/><rect x="73" y="-8" width="2.4" height="2.4" fill="#3aff33"/><rect x="75" y="-8" width="2.4" height="2.4" fill="#30ff32"/><rect x="77" y="-8" width="2.4" height="2.4" fill="#25ff31"/><rect x="79" y="-8" width="2.4" height="2.4" fill="#1bff30"/><rect x="81" y="-8" width="2.4" height="2.4" fill="#10ff2f"/><rect x="83" y="-8" width="2.4" height="2.4" fill="#02ff2e"/><rect x="85" y="-8" width="2.4" height="2.4" fill="#00ff2d"/><rect x="1" y="-6" width="2.4" height="2.4" fill="#ff0026"/><rect x="3" y="-6" width="2.4" height="2.4" fill="#ff0027"/><rect x="5" y="-6" width="2.4" height="2.4" fill="#ff0a27"/><rect x="7" y="-6" width="2.4" height="2.4" fill="#ff1728"/><rect x="9" y="-6" width="2.4" height="2.4" fill="#ff2329"/><rect x="11" y="-6" width="2.4" height="2.4" fill="#ff2e29"/><rect x="13" y="-6" width="2.4" height="2.4" fill="#ff392a"/><rect x="15" y="-6" width="2.4" height="2.4" fill="#ff442b"/><rect x="17" y="-6" width="2.4" height="2.4" fill="#ff4f2c"/><rect x="19" y="-6" width="2.4" height="2.4" fill="#ff5a2d"/><rect x="21" y="-6" width="2.4" height="2.4" fill="#ff652e"/><rect x="23" y="-6" width="2.4" height="2.4" fill="#ff712f"/><rect x="25" y="-6" width="2.4" height="2.4" fill="#ff7d30"/><rect x="27" y="-6" width="2.4" height="2.4" fill="#ff8a31"/><rect x="29" y="-6" width="2.4" height="2.4" fill="#ff9732"/><rect x="31" y="-6" width="2.4" height="2.4" fill="#ffa434"/><rect x="33" y="-6" width="2.4" height="2.4" fill="#ffb335"/><rect x="35" y="-6" width="2.4" height="2.4" fill="#ffc237"/><rect x="37" y="-6" width="2.4" height="2.4" fill="#ffd238"/><rect x="39" y="-6" width="2.4" height="2.4" fill="#ffe23a"/><rect x="41" y="-6" width="2.4" height="2.4" fill="#fff43c"/><rect x="43" y="-6" width="2.4" height="2.4" fill="#f7ff3c"/><rect x="45" y="-6" width="2.4" height="2.4" fill="#e5ff3a"/><rect x="47" y="-6" width="2.4" height="2.4" fill="#d4ff38"/><rect x="49" y="-6" width="2.4" height="2.4" fill="#c4ff36"/><rect x="51" y="-6" width="2.4" height="2.4" fill="#b5ff34"/><rect x="53" y="-6" width="2.4" height="2.4" fill="#a7ff32"/><rect x="55" y="-6" width="2.4" height="2.4" fill="#9aff31"/><rect x="57" y="-6" width="2.4" height="2.4" fill="#8eff2f"/><rect x="59" y="-6" width="2.4" height="2.4" fill="#82ff2e"/><rect x="61" y="-6" width="2.4" height="2.4" fill="#76ff2d"/><rect x="63" y="-6" width="2.4" height="2.4" fill="#6bff2c"/><rect x="65" y="-6" width="2.4" height="2.4" fill="#61ff2a"/><rect x="67" y="-6" width="2.4" height="2.4" fill="#56ff29"/><rect x="69" y="-6" width="2.4" height="2.4" fill="#4cff28"/><rect x="71" y="-6" width="2.4" height="2.4" fill="#42ff27"/><rect x="73" y="-6" width="2.4" height="2.4" fill="#38ff27"/><rect x="75" y="-6" width="2.4" height="2.4" fill="#2fff26"/><rect x="77" y="-6" width="2.4" height="2.4" fill="#25ff25"/><rect x="79" y="-6" width="2.4" height="2.4" fill="#1bff24"/><rect x="81" y="-6" width="2.4" height="2.4" fill="#10ff23"/><rect x="83" y="-6" width="2.4" height="2.4" fill="#02ff23"/><rect x="85" y="-6" width="2.4" height="2.4" fill="#00ff22"/><rect x="-1" y="-4" width="2.4" height="2.4" fill="#ff0019"/><rect x="1" y="-4" width="2.4" height="2.4" fill="#ff0019"/><rect x="3" y="-4" width="2.4" height="2.4" fill="#ff091a"/><rect x="5" y="-4" width="2.4" height="2.4" fill="#ff161a"/><rect x="7" y="-4" width="2.4" height="2.4" fill="#ff221b"/><rect x="9" y="-4" width="2.4" height="2.4" fill="#ff2d1b"/><rect x="11" y="-4" width="2.4" height="2.4" fill="#ff381c"/><rect x="13" y="-4" width="2.4" height="2.4" fill="#ff431c"/><rect x="15" y="-4" width="2.4" height="2.4" fill="#ff4d1d"/><rect x="17" y="-4" width="2.4" height="2.4" fill="#ff581d"/><rect x="19" y="-4" width="2.4" height="2.4" fill="#ff631e"/><rect x="21" y="-4" width="2.4" height="2.4" fill="#ff6f1f"/><rect x="23" y="-4" width="2.4" height="2.4" fill="#ff7a1f"/><rect x="25" y="-4" width="2.4" height="2.4" fill="#ff8620"/><rect x="27" y="-4" width="2.4" height="2.4" fill="#ff9321"/><rect x="29" y="-4" width="2.4" height="2.4" fill="#ffa022"/><rect x="31" y="-4" width="2.4" height="2.4" fill="#ffae23"/><rect x="33" y="-4" width="2.4" height="2.4" fill="#ffbc24"/><rect x="35" y="-4" width="2.4" height="2.4" fill="#ffcb25"/><rect x="37" y="-4" width="2.4" height="2.4" fill="#ffdb26"/><rect x="39" y="-4" width="2.4" height="2.4" fill="#ffec27"/><rect x="41" y="-4" width="2.4" height="2.4" fill="#ffff28"/><rect x="43" y="-4" width="2.4" height="2.4" fill="#edff27"/><rect x="45" y="-4" width="2.4" height="2.4" fill="#dcff25"/><rect x="47" y="-4" width="2.4" height="2.4" fill="#cdff24"/><rect x="49" y="-4" width="2.4" height="2.4" fill="#beff23"/><rect x="51" y="-4" width="2.4" height="2.4" fill="#b0ff22"/><rect x="53" y="-4" width="2.4" height="2.4" fill="#a2ff21"/><rect x="55" y="-4" width="2.4" height="2.4" fill="#96ff20"/><rect x="57" y="-4" width="2.4" height="2.4" fill="#8aff1f"/><rect x="59" y="-4" width="2.4" height="2.4" fill="#7eff1e"/><rect x="61" y="-4" width="2.4" height="2.4" fill="#73ff1d"/><rect x="63" y="-4" width="2.4" height="2.4" fill="#69ff1c"/><rect x="65" y="-4" width="2.4" height="2.4" fill="#5eff1c"/><rect x="67" y="-4" width="2.4" height="2.4" fill="#54ff1b"/><rect x="69" y="-4" width="2.4" height="2.4" fill="#4bff1a"/><rect x="71" y="-4" width="2.4" height="2.4" fill="#41ff1a"/><rect x="73" y="-4" width="2.4" height="2.4" fill="#37ff19"/><rect x="75" y="-4" width="2.4" height="2.4" fill="#2eff19"/><rect x="77" y="-4" width="2.4" height="2.4" fill="#24ff18"/><rect x="79" y="-4" width="2.4" height="2.4" fill="#1aff18"/><rect x="81" y="-4" width="2.4" height="2.4" fill="#10ff17"/><rect x="83" y="-4" width="2.4" height="2.4" fill="#02ff17"/><rect x="85" y="-4" width="2.4" height="2.4" fill="#00ff16"/><rect x="-1" y="-2" width="2.4" height="2.4" fill="#ff000b"/><rect x="1" y="-2" width="2.4" height="2.4" fill="#ff090b"/><rect x="3" y="-2" width="2.4" height="2.4" fill="#ff160b"/><rect x="5" y="-2" width="2.4" height="2.4" fill="#ff210b"/><rect x="7" y="-2" width="2.4" height="2.4" fill="#ff2c0b"/><rect x="9" y="-2" width="2.4" height="2.4" fill="#ff370c"/><rect x="11" y="-2" width="2.4" height="2.4" fill="#ff410c"/><rect x="13" y="-2" width="2.4" height="2.4" fill="#ff4c0c"/><rect x="15" y="-2" width="2.4" height="2.4" fill="#ff560c"/><rect x="17" y="-2" width="2.4" height="2.4" fill="#ff610c"/><rect x="19" y="-2" width="2.4" height="2.4" fill="#ff6c0d"/><rect x="21" y="-2" width="2.4" height="2.4" fill="#ff780d"/><rect x="23" y="-2" width="2.4" height="2.4" fill="#ff830d"/><rect x="25" y="-2" width="2.4" height="2.4" fill="#ff8f0e"/><rect x="27" y="-2" width="2.4" height="2.4" fill="#ff9c0e"/><rect x="29" y="-2" width="2.4" height="2.4" fill="#ffa90e"/><rect x="31" y="-2" width="2.4" height="2.4" fill="#ffb70f"/><rect x="33" y="-2" width="2.4" height="2.4" fill="#ffc50f"/><rect x="35" y="-2" width="2.4" height="2.4" fill="#ffd510"/><rect x="37" y="-2" width="2.4" height="2.4" fill="#ffe510"/><rect x="39" y="-2" width="2.4" height="2.4" fill="#fff611"/><rect x="41" y="-2" width="2.4" height="2.4" fill="#f6ff10"/><rect x="43" y="-2" width="2.4" height="2.4" fill="#e5ff10"/><rect x="45" y="-2" width="2.4" height="2.4" fill="#d5ff0f"/><rect x="47" y="-2" width="2.4" height="2.4" fill="#c6ff0f"/><rect x="49" y="-2" width="2.4" height="2.4" fill="#b8ff0e"/><rect x="51" y="-2" width="2.4" height="2.4" fill="#aaff0e"/><rect x="53" y="-2" width="2.4" height="2.4" fill="#9eff0d"/><rect x="55" y="-2" width="2.4" height="2.4" fill="#92ff0d"/><rect x="57" y="-2" width="2.4" height="2.4" fill="#86ff0d"/><rect x="59" y="-2" width="2.4" height="2.4" fill="#7bff0c"/><rect x="61" y="-2" width="2.4" height="2.4" fill="#70ff0c"/><rect x="63" y="-2" width="2.4" height="2.4" fill="#66ff0c"/><rect x="65" y="-2" width="2.4" height="2.4" fill="#5cff0c"/><rect x="67" y="-2" width="2.4" height="2.4" fill="#52ff0b"/><rect x="69" y="-2" width="2.4" height="2.4" fill="#49ff0b"/><rect x="71" y="-2" width="2.4" height="2.4" fill="#40ff0b"/><rect x="73" y="-2" width="2.4" height="2.4" fill="#36ff0b"/><rect x="75" y="-2" width="2.4" height="2.4" fill="#2dff0a"/><rect x="77" y="-2" width="2.4" height="2.4" fill="#23ff0a"/><rect x="79" y="-2" width="2.4" height="2.4" fill="#1aff0a"/><rect x="81" y="-2" width="2.4" height="2.4" fill="#0fff0a"/><rect x="83" y="-2" width="2.4" height="2.4" fill="#02ff0a"/><rect x="85" y="-2" width="2.4" height="2.4" fill="#00ff09"/><rect x="-1" y="0" width="2.4" height="2.4" fill="#ff0900"/><rect x="1" y="0" width="2.4" height="2.4" fill="#ff1600"/><rect x="3" y="0" width="2.4" height="2.4" fill="#ff2100"/><rect x="5" y="0" width="2.4" height="2.4" fill="#ff2c00"/><rect x="7" y="0" width="2.4" height="2.4" fill="#ff3600"/><rect x="9" y="0" width="2.4" height="2.4" fill="#ff4000"/><rect x="11" y="0" width="2.4" height="2.4" fill="#ff4a00"/><rect x="13" y="0" width="2.4" height="2.4" fill="#ff5500"/><rect x="15" y="0" width="2.4" height="2.4" fill="#ff5f00"/><rect x="17" y="0" width="2.4" height="2.4" fill="#ff6a00"/><rect x="19" y="0" width="2.4" height="2.4" fill="#ff7500"/><rect x="21" y="0" width="2.4" height="2.4" fill="#ff8000"/><rect x="23" y="0" width="2.4" height="2.4" fill="#ff8c00"/><rect x="25" y="0" width="2.4" height="2.4" fill="#ff9800"/><rect x="27" y="0" width="2.4" height="2.4" fill="#ffa500"/><rect x="29" y="0" width="2.4" height="2.4" fill="#ffb200"/><rect x="31" y="0" width="2.4" height="2.4" fill="#ffc000"/><rect x="33" y="0" width="2.4" height="2.4" fill="#ffcf00"/><rect x="35" y="0" width="2.4" height="2.4" fill="#ffde00"/><rect x="37" y="0" width="2.4" height="2.4" fill="#ffee00"/><rect x="39" y="0" width="2.4" height="2.4" fill="#feff00"/><rect x="41" y="0" width="2.4" height="2.4" fill="#edff00"/><rect x="43" y="0" width="2.4" height="2.4" fill="#ddff00"/><rect x="45" y="0" width="2.4" height="2.4" fill="#ceff00"/><rect x="47" y="0" width="2.4" height="2.4" fill="#bfff00"/><rect x="49" y="0" width="2.4" height="2.4" fill="#b2ff00"/><rect x="51" y="0" width="2.4" height="2.4" fill="#a5ff00"/><rect x="53" y="0" width="2.4" height="2.4" fill="#99ff00"/><rect x="55" y="0" width="2.4" height="2.4" fill="#8eff00"/><rect x="57" y="0" width="2.4" height="2.4" fill="#83ff00"/><rect x="59" y="0" width="2.4" height="2.4" fill="#78ff00"/><rect x="61" y="0" width="2.4" height="2.4" fill="#6eff00"/><rect x="63" y="0" width="2.4" height="2.4" fill="#64ff00"/><rect x="65" y="0" width="2.4" height="2.4" fill="#5aff00"/><rect x="67" y="0" width="2.4" height="2.4" fill="#51ff00"/><rect x="69" y="0" width="2.4" height="2.4" fill="#47ff00"/><rect x="71" y="0" width="2.4" height="2.4" fill="#3eff00"/><rect x="73" y="0" width="2.4" height="2.4" fill="#35ff00"/><rect x="75" y="0" width="2.4" height="2.4" fill="#2cff00"/><rect x="77" y="0" width="2.4" height="2.4" fill="#23ff00"/><rect x="79" y="0" width="2.4" height="2.4" fill="#19ff00"/><rect x="81" y="0" width="2.4" height="2.4" fill="#0fff00"/><rect x="83" y="0" width="2.4" height="2.4" fill="#02ff00"/><rect x="85" y="0" width="2.4" height="2.4" fill="#00ff00"/></g>
<path id="keytri" d="M0,0 L84.2,0 A287.5,287.5 0 0 0 74.4,-74.4 Z"/>
<clipPath id="keyclip"><use href="#keytri"/></clipPath>
<path id="bigtri" d="M0,0 L263.6,0 A899.5,899.5 0 0 0 233,-233 Z"/>
<clipPath id="bigclip"><use href="#bigtri"/></clipPath>
<path id="bigtriB" d="M0,0 L262.5,0 A896,896 0 0 0 231.8,-231.8 Z"/>
<clipPath id="bigclipB"><use href="#bigtriB"/></clipPath>
<clipPath id="clipArect"><rect x="70" y="15" width="295" height="301.3"/></clipPath>
</defs>
<g opacity="0.999">
<g id="map-a">
<radialGradient id="rimA" gradientUnits="userSpaceOnUse" cx="217" cy="169.5" r="140" gradientTransform="translate(0 169.5) scale(1 1.0607) translate(0 -169.5)"><stop offset="0" stop-color="#4868f0" stop-opacity="0"/><stop offset="0.80" stop-color="#5070f4" stop-opacity="0"/><stop offset="0.95" stop-color="#5478f6" stop-opacity="0.55"/><stop offset="0.985" stop-color="#58a0f0" stop-opacity="0.7"/><stop offset="1" stop-color="#50e0a0" stop-opacity="0.8"/></radialGradient>
<clipPath id="clipA"><ellipse cx="217" cy="169.5" rx="140" ry="148.5"/></clipPath>
<g clip-path="url(#clipA)">
<rect x="70" y="15" width="295" height="301.5" fill="#9238f0"/>
<path d="M140.0,303.4 L150.5,291.7 L157.5,277.7 L163.3,267.2 L178.5,257.9 L194.9,268.4 L218.2,267.2 L231.0,242.7 L233.4,231.0 L238.0,226.3 L249.2,226.3 L251.6,233.3 L255.1,245.0 L265.6,254.4 L279.6,266.0 L288.9,273.0 L295.9,284.7 L301.0,286.6 L280.0,308.0 L233.4,322.0 L140.0,322.0 Z" fill="#7e4cf4" stroke="#000" stroke-width="1.15" stroke-linejoin="round" stroke-linecap="round"/>
<path d="M282.0,177.3 L293.7,176.2 L310.0,173.8 L324.0,176.2 L335.7,190.2 L352.0,193.7 L363.7,194.8 L363.7,238.0 L300.7,289.4 L296.0,284.7 L289.0,273.0 L279.7,266.0 L265.7,254.4 L255.2,245.0 L251.7,233.3 L249.3,226.3 L252.1,219.3 L266.8,206.5 L272.7,198.3 L279.7,186.7 Z" fill="#8248f4" stroke="#000" stroke-width="1.15" stroke-linejoin="round" stroke-linecap="round"/>
<path d="M306.2,107.3 L292.2,156.3 L299.8,158.4 L313.8,109.4 Z" fill="#a878f4"/>
<path d="M321.5,114.7 L308.7,166.1 L313.7,167.3 L326.5,116.0 Z" fill="#a070f4"/>
<path d="M285.7,107.1 L271.2,151.5 L278.8,153.9 L293.3,109.6 Z" fill="#a88cf6"/>
<path d="M238.7,56.5 L228.2,84.5 L230.8,85.5 L241.3,57.5 Z" fill="#c88cf4"/>
<path d="M254.3,45.1 L246.1,75.4 L247.9,75.9 L256.1,45.6 Z" fill="#c88cf4"/>
<path d="M263.6,43.0 L262.4,92.0 L264.3,92.0 L265.4,43.0 Z" fill="#b0a0f8"/>
<path d="M298.7,114.7 L289.3,145.1 L293.4,146.3 L302.7,116.0 Z" fill="#a070f4"/>
<path d="M235.2,48.3 L220.0,90.3 L229.7,93.8 L244.8,51.7 Z" fill="#b494f6"/>
<path d="M227.2,83.1 L245.8,86.2 L244.2,115.4 L248.2,127.0 L240.0,152.7 L209.7,136.4 L205.0,108.3 Z" fill="#a684f4"/>
<path d="M225.5,91.0 L211.5,130.7 L217.2,132.7 L231.2,93.0 Z" fill="#b8a4f8"/>
<path d="M238.7,91.6 L224.7,135.9 L227.3,136.8 L241.3,92.4 Z" fill="#b0c4f8"/>
<path d="M267.3,35.8 L260.3,91.8 L264.0,92.2 L271.0,36.2 Z" fill="#a884f6"/>
<path d="M280.7,91.4 L266.7,145.0 L271.7,146.3 L285.7,92.7 Z" fill="#a070f2"/>
<path d="M331.1,91.2 L318.3,144.9 L325.1,146.5 L337.9,92.8 Z" fill="#9c6cf2"/>
<path d="M247.1,131.0 L237.8,163.7 L242.3,165.0 L251.6,132.3 Z" fill="#a478f4"/>
<path d="M277.6,40.3 L270.6,75.3 L274.7,76.1 L281.7,41.1 Z" fill="#9c68f2"/>
<path d="M206.5,190.4 L210.7,262.7 L217.7,262.3 L213.5,190.0 Z" fill="#d89cf0"/>
<path d="M221.5,216.8 L218.7,256.5 L224.7,256.9 L227.5,217.2 Z" fill="#c4a8f8"/>
<path d="M135.3,231.1 L136.5,249.8 L138.8,249.6 L137.7,230.9 Z" fill="#e090e8"/>
<path d="M161.2,207.7 L163.6,252.1 L165.4,252.0 L163.1,207.6 Z" fill="#e080e8"/>
<path d="M190.7,228.7 L193.0,256.7 L194.4,256.6 L192.1,228.6 Z" fill="#d880ec"/>
<path d="M156.9,238.0 L158.1,266.0 L159.3,266.0 L158.1,238.0 Z" fill="#d880ec"/>
<path d="M158.5,278.3 L261.2,303.9 L261.5,302.8 L158.8,277.1 Z" fill="#e070e0"/>
<path d="M111.1,240.5 L113.4,261.5 L115.3,261.3 L112.9,240.2 Z" fill="#d070e8"/>
<path d="M307.8,202.1 L266.5,238.7 L267.2,239.6 L308.5,203.0 Z" fill="#58d0f0"/>
<path d="M318.3,146.6 L308.9,174.6 L311.1,175.4 L320.5,147.4 Z" fill="#c0a0f8"/>
<ellipse cx="217" cy="169.5" rx="140" ry="148.5" fill="url(#rimA)"/>
<path d="M140.4,45.5 L161.3,36.7 L167.5,59.5 L152.9,68.9 L143.5,57.6 Z" fill="#ffc23c" stroke="#000" stroke-width="1.15" stroke-linejoin="round" stroke-linecap="round"/>
<path d="M148.7,43.0 L160.8,37.8 L165.0,52.8 L154.4,56.3 Z" fill="#ffe04c"/>
<path d="M162.3,36.1 L176.9,30.9 L174.4,66.4 L167.5,60.1 Z" fill="#ff4050" stroke="#000" stroke-width="1.15" stroke-linejoin="round" stroke-linecap="round"/>
<path d="M176.9,30.9 L204.1,23.6 L202.0,37.1 L214.5,47.6 L227.0,78.9 L206.1,106.0 L193.6,87.2 L174.4,66.4 Z" fill="#44a4f8" stroke="#000" stroke-width="1.15" stroke-linejoin="round" stroke-linecap="round"/>
<path d="M204.1,23.6 L211.4,24.6 L213.4,34.0 L210.3,45.5 L214.5,47.6 L202.0,37.1 Z" fill="#a060f0" stroke="#000" stroke-width="1.15" stroke-linejoin="round" stroke-linecap="round"/>
<path d="M119.5,59.1 L138.3,47.6 L146.6,65.3 L144.6,84.1 L122.6,97.7 L104.9,88.3 Z" fill="#3454f0" stroke="#000" stroke-width="1.15" stroke-linejoin="round" stroke-linecap="round"/>
<path d="M146.6,65.3 L152.9,68.9 L167.5,60.1 L174.4,66.4 L164.4,72.6 L160.2,78.9 L147.7,72.6 Z" fill="#4464f2" stroke="#000" stroke-width="1.15" stroke-linejoin="round" stroke-linecap="round"/>
<path d="M144.6,84.1 L147.7,72.6 L160.2,78.9 L164.4,72.6 L172.7,93.5 L160.2,101.9 L151.9,93.5 Z" fill="#a494f8" stroke="#000" stroke-width="1.15" stroke-linejoin="round" stroke-linecap="round"/>
<path d="M164.4,72.6 L174.4,66.4 L193.6,87.2 L189.4,93.5 L172.7,93.5 Z" fill="#8c9cf8" stroke="#000" stroke-width="1.15" stroke-linejoin="round" stroke-linecap="round"/>
<path d="M189.4,93.5 L197.8,87.2 L204.1,99.8 L195.7,103.9 Z" fill="#98f088" stroke="#000" stroke-width="1.15" stroke-linejoin="round" stroke-linecap="round"/>
<path d="M87.4,108.2 L93.0,98.4 L104.2,95.6 L112.6,99.1 L100.0,104.0 L102.1,128.5 L86.0,125.0 L85.3,115.2 Z" fill="#f0608c" stroke="#000" stroke-width="1.15" stroke-linejoin="round" stroke-linecap="round"/>
<path d="M93.0,107.5 L100.0,104.0 L102.1,128.5 L94.4,126.7 L90.9,123.6 Z" fill="#a060e8"/>
<path d="M86.0,125.0 L102.1,128.5 L90.2,148.8 L88.8,150.2 L85.3,146.0 L83.9,134.8 Z" fill="#8c68f0" stroke="#000" stroke-width="1.15" stroke-linejoin="round" stroke-linecap="round"/>
<path d="M90.2,148.8 L102.1,128.5 L121.7,127.8 L127.3,141.8 L121.0,157.2 L114.0,164.2 L91.6,164.2 Z" fill="#4468f0" stroke="#000" stroke-width="1.15" stroke-linejoin="round" stroke-linecap="round"/>
<path d="M102.1,128.5 L100.0,104.0 L112.6,99.1 L123.8,99.8 L131.5,113.8 L121.7,127.8 Z" fill="#8494f8" stroke="#000" stroke-width="1.15" stroke-linejoin="round" stroke-linecap="round"/>
<path d="M112.6,99.1 L123.8,99.8 L131.5,113.8 L121.7,127.8 L114.0,127.8 L118.2,113.8 Z" fill="#54e8d0"/>
<path d="M123.8,99.8 L132.2,97.0 L139.2,92.8 L161.6,98.4 L156.0,114.1 L131.5,113.8 Z" fill="#74f0b4" stroke="#000" stroke-width="1.15" stroke-linejoin="round" stroke-linecap="round"/>
<path d="M131.5,113.8 L156.0,114.5 L152.5,132.0 L144.8,147.4 L128.0,142.5 L122.4,127.8 Z" fill="#a890f8" stroke="#000" stroke-width="1.15" stroke-linejoin="round" stroke-linecap="round"/>
<path d="M161.6,98.4 L172.8,97.0 L181.2,111.0 L179.8,120.8 L170.0,125.0 L158.8,120.8 L156.0,114.5 Z" fill="#52a8f4" stroke="#000" stroke-width="1.15" stroke-linejoin="round" stroke-linecap="round"/>
<path d="M153.9,122.2 L158.8,120.8 L164.4,125.0 L160.2,133.4 L153.2,134.8 Z" fill="#70b0f8" stroke="#000" stroke-width="1.15" stroke-linejoin="round" stroke-linecap="round"/>
<path d="M79.7,151.6 L88.8,150.2 L91.6,164.2 L78.3,165.6 Z" fill="#5070f0" stroke="#000" stroke-width="1.15" stroke-linejoin="round" stroke-linecap="round"/>
<path d="M100.0,104.0 L102.1,128.5" fill="none" stroke="#000" stroke-width="1.15" stroke-linejoin="round" stroke-linecap="round"/>
<path d="M112.6,99.1 L123.8,99.8" fill="none" stroke="#000" stroke-width="1.15" stroke-linejoin="round" stroke-linecap="round"/>
<path d="M300.7,50.0 L315.9,65.2 L331.5,83.8 L310.0,96.7 L291.4,104.8 L284.4,94.3 L280.9,82.7 L286.7,68.7 L296.0,55.8 Z" fill="#7c54f4" stroke="#000" stroke-width="1.15" stroke-linejoin="round" stroke-linecap="round"/>
<path d="M291.4,104.8 L310.0,96.7 L312.8,99.5 L306.5,106.5 L297.9,107.9 Z" fill="#4a88f4" stroke="#000" stroke-width="1.15" stroke-linejoin="round" stroke-linecap="round"/>
<path d="M283.2,101.8 L286.7,100.2 L289.5,103.7 L287.9,108.3 L283.9,108.8 Z" fill="#d0c8f8" stroke="#000" stroke-width="1.15" stroke-linejoin="round" stroke-linecap="round"/>
<path d="M273.9,155.0 L277.8,153.2 L281.6,156.2 L280.2,160.9 L275.5,160.2 Z" fill="#9c48f0" stroke="#000" stroke-width="1.15" stroke-linejoin="round" stroke-linecap="round"/>
<path d="M259.8,142.2 L263.3,140.6 L263.8,146.9 L260.5,148.5 Z" fill="#7848e0" stroke="#000" stroke-width="1.15" stroke-linejoin="round" stroke-linecap="round"/>
<path d="M245.8,86.2 L256.8,85.0 L263.8,93.2 L262.4,108.3 L255.2,124.7 L248.2,127.0 L244.7,115.4 L250.5,99.0 Z" fill="#5ce8b8"/>
<path d="M250.5,108.3 L262.4,107.2 L255.2,124.7 L248.2,127.0 L245.1,117.7 Z" fill="#54d0f0"/>
<path d="M214.3,32.5 L224.1,26.2 L234.2,36.0 L228.8,46.5 L219.0,44.9 Z" fill="#f4f49c" stroke="#000" stroke-width="1.15" stroke-linejoin="round" stroke-linecap="round"/>
<path d="M321.0,117.2 L307.5,161.3" fill="none" stroke="#000" stroke-width="1.2" stroke-linejoin="round" stroke-linecap="round" stroke-dasharray="1.2 2.6"/>
<path d="M265.0,34.8 L267.5,92.0" fill="none" stroke="#000" stroke-width="1.1" stroke-linejoin="round" stroke-linecap="round" stroke-dasharray="1.2 3.4"/>
<path d="M210.8,42.5 L217.8,44.9 L220.2,52.3 L214.3,50.0 Z" fill="#f0a4c4" stroke="#000" stroke-width="1.15" stroke-linejoin="round" stroke-linecap="round"/>
<path d="M77.0,166.1 L93.3,165.2 L107.3,166.8 L113.2,171.5 L114.3,182.0 L105.0,194.8 L107.3,200.7 L98.0,212.3 L82.8,200.7 L77.5,182.0 Z" fill="#3a50f0" stroke="#000" stroke-width="1.15" stroke-linejoin="round" stroke-linecap="round"/>
<path d="M114.3,168.0 L122.5,152.8 L130.7,149.3 L147.0,154.0 L150.5,163.3 L154.0,178.5 L147.0,194.8 L128.3,203.0 L108.5,198.3 L114.3,182.0 Z" fill="#7238f0" stroke="#000" stroke-width="1.15" stroke-linejoin="round" stroke-linecap="round"/>
<path d="M147.0,194.8 L154.0,178.5 L163.3,183.2 L175.0,184.3 L173.9,200.7 L163.3,203.0 L150.5,201.8 Z" fill="#3048f0" stroke="#000" stroke-width="1.15" stroke-linejoin="round" stroke-linecap="round"/>
<path d="M163.3,175.0 L173.9,173.8 L175.0,184.3 L163.3,183.2 Z" fill="#2838e8" stroke="#000" stroke-width="1.15" stroke-linejoin="round" stroke-linecap="round"/>
<path d="M98.0,212.3 L107.3,200.7 L129.5,201.8 L137.7,210.0 L140.0,221.7 L133.0,232.2 L116.7,236.8 L108.5,234.5 Z" fill="#3a4cf0" stroke="#000" stroke-width="1.15" stroke-linejoin="round" stroke-linecap="round"/>
<path d="M91.0,217.0 L98.0,212.3 L108.5,234.5 L102.7,239.2 L95.2,229.8 Z" fill="#4858f0" stroke="#000" stroke-width="1.15" stroke-linejoin="round" stroke-linecap="round"/>
<path d="M103.8,194.8 L109.7,192.5 L110.8,199.5 L105.0,201.1 Z" fill="#e890e8" stroke="#000" stroke-width="1.15" stroke-linejoin="round" stroke-linecap="round"/>
<path d="M176.2,166.8 L191.4,163.3 L193.7,177.3 L186.7,185.5 L178.5,187.8 L175.0,184.3 L173.9,173.8 Z" fill="#7cb4f8" stroke="#000" stroke-width="1.15" stroke-linejoin="round" stroke-linecap="round"/>
<path d="M147.0,294.5 L150.5,291.7 L157.5,277.7 L163.3,267.2 L178.5,257.9 L194.9,268.4 L218.2,267.2 L231.0,242.7 L233.4,231.0 L238.0,226.3" fill="none" stroke="#000" stroke-width="1.15" stroke-linejoin="round" stroke-linecap="round"/>
<path d="M128.5,203.4 L147.2,195.3 L146.8,194.4 L128.2,202.6 Z" fill="#f0b040"/>
<path d="M179.9,212.8 L203.2,201.1 L202.8,200.3 L179.5,211.9 Z" fill="#f0b848"/>
<path d="M184.7,210.3 L190.5,208.0 L189.9,206.5 L184.0,208.8 Z" fill="#101010"/>
<path d="M198.2,203.2 L202.2,201.3 L201.6,200.0 L197.6,201.9 Z" fill="#101010"/>
<path d="M124.3,155.7 L133.6,151.0 L133.3,150.4 L124.0,155.1 Z" fill="#f0a040"/>
<path d="M180.9,115.5 L188.4,109.9 L192.2,113.7 L186.5,129.5 L174.4,123.0 Z" fill="#a494f8" stroke="#000" stroke-width="1.15" stroke-linejoin="round" stroke-linecap="round"/>
<path d="M147.3,139.8 L158.2,134.6 L166.0,130.1 L174.4,123.0 L186.5,129.5 L185.6,156.6 L179.1,161.3 L160.4,167.8 L153.9,169.7 L150.1,158.5 L146.4,147.7 Z" fill="#8c90f8" stroke="#000" stroke-width="1.15" stroke-linejoin="round" stroke-linecap="round"/>
<path d="M158.2,134.6 L166.0,130.1 L174.4,123.0 L186.5,129.5 L186.2,138.9 L166.0,141.7 L152.0,143.9 Z" fill="#7ca4f8"/>
<path d="M186.5,129.5 L192.2,113.7 L197.8,108.1 L207.1,119.3 L209.0,137.9 L194.0,149.1 L185.6,156.6 Z" fill="#a474f2" stroke="#000" stroke-width="1.15" stroke-linejoin="round" stroke-linecap="round"/>
<path d="M192.2,156.6 L201.5,145.4 L210.8,142.6 L212.7,154.7 L207.1,163.1 L197.8,165.9 L192.2,162.2 Z" fill="#7c8cf8" stroke="#000" stroke-width="1.15" stroke-linejoin="round" stroke-linecap="round"/>
<path d="M213.6,149.1 L222.0,146.3 L238.8,156.6 L240.7,173.4 L231.4,177.2 L223.9,184.6 L210.8,184.6 L206.2,173.4 L207.1,163.1 L212.7,154.7 Z" fill="#8a52f0" stroke="#000" stroke-width="1.15" stroke-linejoin="round" stroke-linecap="round"/>
<path d="M162.3,173.4 L175.3,173.4 L174.4,184.6 L166.0,182.8 Z" fill="#2838e8" stroke="#000" stroke-width="1.15" stroke-linejoin="round" stroke-linecap="round"/>
<path d="M161.3,167.8 L177.2,167.4 L177.2,169.7 L161.3,170.1 Z" fill="#101010"/>
<path d="M231.4,177.2 L240.7,173.4 L246.3,179.0 L245.4,192.1 L237.0,194.0 L231.4,188.4 Z" fill="#9080f4" stroke="#000" stroke-width="1.15" stroke-linejoin="round" stroke-linecap="round"/>
<path d="M236.0,203.3 L245.4,196.8 L251.0,201.4 L250.0,207.0 L240.7,207.0 Z" fill="#5078f4" stroke="#000" stroke-width="1.15" stroke-linejoin="round" stroke-linecap="round"/>
<path d="M222.0,208.9 L233.2,207.0 L235.1,214.5 L225.8,216.4 Z" fill="#8858f0" stroke="#000" stroke-width="1.15" stroke-linejoin="round" stroke-linecap="round"/>
<path d="M250.5,177.3 L266.8,166.8 L266.8,206.5 L254.0,200.7 L248.2,189.0 Z" fill="#b8ecf8" stroke="#000" stroke-width="1.15" stroke-linejoin="round" stroke-linecap="round"/>
<path d="M266.8,166.8 L282.0,177.3 L279.7,186.7 L272.7,198.3 L266.8,206.5 Z" fill="#7078f0" stroke="#000" stroke-width="1.15" stroke-linejoin="round" stroke-linecap="round"/>
<path d="M233.0,175.0 L242.3,173.8 L247.0,182.0 L245.8,192.5 L237.7,194.8 L231.8,186.7 Z" fill="#8878f4" stroke="#000" stroke-width="1.15" stroke-linejoin="round" stroke-linecap="round"/>
<path d="M236.5,197.2 L245.8,193.7 L251.7,200.7 L250.5,206.5 L240.0,207.7 L235.3,203.0 Z" fill="#4a70f4" stroke="#000" stroke-width="1.15" stroke-linejoin="round" stroke-linecap="round"/>
<path d="M235.3,210.0 L250.5,207.2 L252.1,219.3 L248.2,227.5 L237.7,225.2 L233.5,217.0 Z" fill="#3c60f0" stroke="#000" stroke-width="1.15" stroke-linejoin="round" stroke-linecap="round"/>
<path d="M234.9,212.8 L237.7,210.5 L250.5,222.8 L248.4,226.8 Z" fill="#f04060"/>
<path d="M217.8,187.8 L226.0,183.2 L230.2,186.7 L228.3,194.8 L220.2,196.0 Z" fill="#a8e8f0" stroke="#000" stroke-width="1.15" stroke-linejoin="round" stroke-linecap="round"/>
<path d="M219.0,199.5 L226.0,198.3 L227.2,207.7 L221.3,207.7 Z" fill="#f06050" stroke="#000" stroke-width="1.15" stroke-linejoin="round" stroke-linecap="round"/>
<path d="M228.3,196.0 L235.3,194.8 L236.5,201.1 L229.5,201.8 Z" fill="#f07878" stroke="#000" stroke-width="1.15" stroke-linejoin="round" stroke-linecap="round"/>
<path d="M209.7,136.5 L240.0,154.0 L282.0,177.3 L293.7,176.2 L310.0,173.8 L324.0,176.2 L335.7,190.2 L352.0,193.7 L363.7,195.1" fill="none" stroke="#000" stroke-width="1.15" stroke-linejoin="round" stroke-linecap="round"/>
<path d="M248.2,227.5 L249.3,226.3 L251.7,233.3 L255.2,245.0 L265.7,254.4 L279.7,266.0 L289.0,273.0 L296.0,284.7 L301.2,286.6" fill="none" stroke="#000" stroke-width="1.15" stroke-linejoin="round" stroke-linecap="round"/>
<path d="M299.5,242.7 L305.4,239.9 L313.5,240.8 L318.2,245.0" fill="none" stroke="#000" stroke-width="0.8" stroke-linejoin="round" stroke-linecap="round"/>
<path d="M291.4,214.2 L294.9,212.8 L295.6,216.1 L292.3,217.5 Z" fill="#101010"/>
<path d="M280.2,271.9 L283.9,271.2 L284.8,275.4 L281.1,276.3 Z" fill="#f0c040"/>
<path d="M321.7,175.5 L325.9,175.0 L325.4,177.3 L322.2,177.8 Z" fill="#f0a040"/>
<rect x="165" y="312.5" width="130" height="2.2" fill="#f05070"/>
<rect x="70" y="316.3" width="295" height="10" fill="#fff"/>
<path d="M190,306 L198,301 L201,312 L193,315 Z" fill="#fff"/>
</g>
<ellipse cx="217" cy="169.5" rx="140" ry="148.5" fill="none" stroke="#202030" stroke-width="0.9" clip-path="url(#clipArect)"/>
</g>
<g id="map-b">
<clipPath id="clipB"><ellipse cx="213" cy="540" rx="139.5" ry="138.5"/></clipPath>
<g clip-path="url(#clipB)">
<rect x="70" y="395" width="295" height="290" fill="#f2423a"/>
<path d="M243.0,395.0 L365.0,395.0 L365.0,580.0 L330.0,575.0 L318.0,540.0 L306.0,500.0 L296.0,460.0 L280.0,430.0 L262.0,415.0 Z" fill="#f03c80"/>
<path d="M70.0,566.0 L90.5,565.2 L122.3,576.4 L124.1,570.8 L135.3,565.2 L146.5,557.8 L152.2,557.8 L157.8,541.0 L169.0,533.5 L170.8,516.7 L178.3,513.0 L189.5,507.3 L189.5,491.0 L215.0,488.0 L240.0,500.0 L256.0,514.0 L282.0,532.0 L262.0,541.0 L270.0,552.0 L282.0,561.5 L297.0,559.6 L312.0,563.4 L327.0,567.0 L340.0,578.3 L360.0,590.0 L360.0,690.0 L70.0,690.0 Z" fill="#9c68f2"/>
<path d="M66.0,568.0 L79.3,567.4 L90.5,565.5 L99.9,571.1 L122.3,575.0 L124.1,597.3 L131.6,612.2 L135.3,619.7 L114.8,632.8 L100.0,645.0 L66.0,645.0 Z" fill="#bc4cf0"/>
<path d="M101.7,459.6 L116.7,465.2 L124.1,468.9 L126.0,470.8 L124.1,480.2 L104.5,464.3 Z" fill="#f04c40"/>
<path d="M176.4,412.9 L187.6,410.7 L189.5,426.0 L182.0,435.3 L177.4,431.6 Z" fill="#f89030" stroke="#000" stroke-width="1.45" stroke-linejoin="round" stroke-linecap="round"/>
<path d="M171.8,414.8 L176.8,413.7 L180.2,433.5 L177.4,434.4 Z" fill="#6050e0" stroke="#000" stroke-width="1.45" stroke-linejoin="round" stroke-linecap="round"/>
<path d="M89.6,477.4 L104.5,464.3 L124.1,479.2 L121.3,489.5 L117.6,491.4 L101.7,483.9 Z" fill="#50a0f0" stroke="#000" stroke-width="1.45" stroke-linejoin="round" stroke-linecap="round"/>
<path d="M93.9,476.3 L105.1,468.8 L104.0,467.2 L92.8,474.7 Z" fill="#d8e8f8"/>
<path d="M104.5,455.9 L110.1,454.9 L111.1,460.5 L105.5,460.5 Z" fill="#40a8f0"/>
<path d="M121.3,438.1 L125.1,437.2 L129.7,446.5 L126.9,447.5 Z" fill="#4060e0"/>
<path d="M144.7,424.1 L146.5,433.5 L155.9,434.4 L159.6,424.1 L156.8,421.3 Z" fill="#f05038" stroke="#000" stroke-width="1.45" stroke-linejoin="round" stroke-linecap="round"/>
<path d="M131.6,459.6 L144.7,450.3 L148.4,457.7 L144.7,470.8 L135.3,474.5 Z" fill="#f86038" stroke="#000" stroke-width="1.45" stroke-linejoin="round" stroke-linecap="round"/>
<path d="M163.4,461.5 L166.2,472.7 L161.5,476.4 L150.3,474.5 L144.7,470.8 L148.4,457.7 L159.6,454.0 Z" fill="#f8803c" stroke="#000" stroke-width="1.45" stroke-linejoin="round" stroke-linecap="round"/>
<path d="M163.4,461.5 L174.6,462.4 L180.2,476.4 L174.6,485.8 L169.0,475.5 L166.2,472.7 Z" fill="#f04c5c" stroke="#000" stroke-width="1.45" stroke-linejoin="round" stroke-linecap="round"/>
<path d="M174.6,462.4 L178.3,455.9 L185.8,455.9 L191.4,468.9 L189.5,472.7 L180.2,476.4 Z" fill="#f04870" stroke="#000" stroke-width="1.45" stroke-linejoin="round" stroke-linecap="round"/>
<path d="M124.1,480.2 L135.3,474.5 L140.9,482.0 L137.2,485.8 L126.0,485.8 L121.3,489.5 Z" fill="#f03c6c" stroke="#000" stroke-width="1.45" stroke-linejoin="round" stroke-linecap="round"/>
<path d="M140.9,482.0 L150.3,487.6 L148.4,498.8 L140.9,500.7 L139.1,491.4 L137.2,485.8 Z" fill="#f85c38" stroke="#000" stroke-width="1.45" stroke-linejoin="round" stroke-linecap="round"/>
<path d="M150.3,487.6 L161.5,491.4 L165.2,502.6 L159.6,506.3 L148.4,498.8 Z" fill="#f04838" stroke="#000" stroke-width="1.45" stroke-linejoin="round" stroke-linecap="round"/>
<path d="M165.2,502.6 L174.6,495.1 L185.8,498.8 L189.5,502.6 L182.0,513.8 L169.0,513.8 Z" fill="#f85040" stroke="#000" stroke-width="1.45" stroke-linejoin="round" stroke-linecap="round"/>
<path d="M163.4,476.4 L169.0,475.5 L176.4,487.6 L171.8,489.5 Z" fill="#30a0e0"/>
<path d="M180.2,476.4 L189.5,472.7 L200.7,476.4 L202.6,487.6 L193.2,493.2 L183.9,489.5 Z" fill="#f03890" stroke="#000" stroke-width="1.45" stroke-linejoin="round" stroke-linecap="round"/>
<path d="M191.4,468.9 L202.6,467.1 L210.0,459.6 L219.4,463.3 L230.0,467.1 L230.0,480.2 L215.6,485.8 L202.6,487.6 L200.7,476.4 L189.5,472.7 Z" fill="#f04468" stroke="#000" stroke-width="1.45" stroke-linejoin="round" stroke-linecap="round"/>
<path d="M203.5,461.5 L208.2,452.1 L215.6,457.7 L210.0,463.3 Z" fill="#f8a040" stroke="#000" stroke-width="1.45" stroke-linejoin="round" stroke-linecap="round"/>
<path d="M189.5,491.4 L200.7,489.5 L211.9,493.2 L210.0,498.8 L197.0,499.8 Z" fill="#2838e8" stroke="#000" stroke-width="1.45" stroke-linejoin="round" stroke-linecap="round"/>
<path d="M159.6,444.7 L163.4,448.4 L174.6,446.5 L178.3,455.9 L174.6,462.4 L163.4,461.5 L159.6,454.0 Z" fill="#f85838" stroke="#000" stroke-width="1.45" stroke-linejoin="round" stroke-linecap="round"/>
<path d="M178.3,439.1 L189.5,440.9 L200.7,444.7 L204.4,454.0 L203.5,461.5 L191.4,468.9 L185.8,455.9 L178.3,455.9 L174.6,446.5 Z" fill="#f05848" stroke="#000" stroke-width="1.45" stroke-linejoin="round" stroke-linecap="round"/>
<path d="M189.5,426.0 L200.7,431.6 L230.0,435.3 L230.0,452.1 L215.6,457.7 L208.2,452.1 L204.4,454.0 L200.7,444.7 L189.5,440.9 L182.0,435.3 Z" fill="#f2484c" stroke="#000" stroke-width="1.45" stroke-linejoin="round" stroke-linecap="round"/>
<path d="M124.1,433.5 L127.9,450.3 L131.6,459.6 L126.0,470.8 L124.1,480.2" fill="none" stroke="#000" stroke-width="1.45" stroke-linejoin="round" stroke-linecap="round"/>
<path d="M101.7,459.6 L116.7,465.2 L124.1,468.9" fill="none" stroke="#000" stroke-width="1.45" stroke-linejoin="round" stroke-linecap="round"/>
<path d="M156.8,433.5 L159.6,444.7 L163.4,448.4" fill="none" stroke="#000" stroke-width="1.45" stroke-linejoin="round" stroke-linecap="round"/>
<path d="M146.5,433.5 L144.7,450.3" fill="none" stroke="#000" stroke-width="1.45" stroke-linejoin="round" stroke-linecap="round"/>
<path d="M75.6,517.5 L88.7,513.8 L101.7,510.0 L112.9,502.6 L122.3,498.8 L126.0,485.8" fill="none" stroke="#000" stroke-width="1.45" stroke-linejoin="round" stroke-linecap="round"/>
<path d="M137.2,444.7 L144.7,450.3" fill="none" stroke="#000" stroke-width="1.45" stroke-linejoin="round" stroke-linecap="round"/>
<path d="M131.6,459.6 L116.7,465.2" fill="none" stroke="#000" stroke-width="1.45" stroke-linejoin="round" stroke-linecap="round"/>
<path d="M92.4,467.5 L101.7,459.6" fill="none" stroke="#000" stroke-width="1.45" stroke-linejoin="round" stroke-linecap="round"/>
<path d="M189.2,401.7 L200.0,399.9 L243.9,403.6 L242.9,409.2 L237.3,427.9 L222.4,437.2 L200.0,431.6 L190.7,426.0 Z" fill="#f89838" stroke="#000" stroke-width="1.45" stroke-linejoin="round" stroke-linecap="round"/>
<path d="M243.9,403.6 L267.2,412.9 L265.3,418.5 L263.5,437.2 L254.1,440.9 L269.1,459.6 L256.0,463.3 L241.1,465.2 L237.3,454.0 L228.0,448.4 L224.3,437.2 L237.3,427.9 L242.9,409.2 Z" fill="#f03888" stroke="#000" stroke-width="1.45" stroke-linejoin="round" stroke-linecap="round"/>
<path d="M265.3,418.5 L270.9,424.1 L265.3,437.2 L263.5,437.2 Z" fill="#f05a9c"/>
<path d="M254.1,438.1 L263.5,436.3 L266.3,446.5 L256.0,447.5 Z" fill="#f87030" stroke="#000" stroke-width="1.45" stroke-linejoin="round" stroke-linecap="round"/>
<path d="M265.3,437.2 L270.9,424.1 L293.4,435.3 L287.8,440.9 L267.2,441.9 Z" fill="#60a8f8" stroke="#000" stroke-width="1.45" stroke-linejoin="round" stroke-linecap="round"/>
<path d="M267.2,441.9 L287.8,440.9 L293.4,435.3 L304.6,450.3 L300.8,472.7 L293.4,478.3 L278.4,478.3 L272.8,468.9 L270.9,454.0 Z" fill="#f04058" stroke="#000" stroke-width="1.45" stroke-linejoin="round" stroke-linecap="round"/>
<path d="M300.8,472.7 L304.6,450.3 L313.9,457.7 L306.4,474.5 Z" fill="#30e090" stroke="#000" stroke-width="1.45" stroke-linejoin="round" stroke-linecap="round"/>
<path d="M272.8,451.2 L289.6,448.4 L287.8,453.1 L274.7,454.9 Z" fill="#4090e0" stroke="#000" stroke-width="1.45" stroke-linejoin="round" stroke-linecap="round"/>
<path d="M293.4,478.3 L306.4,474.5 L315.8,459.6 L330.7,480.2 L341.9,502.6 L327.0,517.5 L312.0,513.8 L297.1,497.0 Z" fill="#f03878" stroke="#000" stroke-width="1.45" stroke-linejoin="round" stroke-linecap="round"/>
<path d="M241.1,465.2 L256.0,463.3 L269.1,459.6 L274.7,472.7 L276.5,482.0 L269.1,485.8 L263.5,495.1 L246.7,497.0 L242.9,485.8 Z" fill="#f87858" stroke="#000" stroke-width="1.45" stroke-linejoin="round" stroke-linecap="round"/>
<path d="M224.3,452.1 L237.3,454.0 L241.1,465.2 L242.9,485.8 L233.6,480.2 L226.1,472.7 Z" fill="#f88830" stroke="#000" stroke-width="1.45" stroke-linejoin="round" stroke-linecap="round"/>
<path d="M200.0,452.1 L209.3,452.1 L224.3,452.1 L226.1,472.7 L218.7,480.2 L205.6,478.3 L200.0,472.7 Z" fill="#f05040" stroke="#000" stroke-width="1.45" stroke-linejoin="round" stroke-linecap="round"/>
<path d="M203.7,457.7 L210.3,454.0 L213.1,461.5 L207.5,464.3 Z" fill="#f8a848" stroke="#000" stroke-width="1.45" stroke-linejoin="round" stroke-linecap="round"/>
<path d="M213.1,498.8 L224.3,482.0 L231.7,489.5 L228.0,508.2 L218.7,508.2 Z" fill="#f0b488" stroke="#000" stroke-width="1.45" stroke-linejoin="round" stroke-linecap="round"/>
<path d="M224.3,487.6 L229.9,489.5 L228.0,508.2 L223.3,506.3 Z" fill="#4050e0"/>
<path d="M278.4,478.3 L293.4,478.3 L297.1,497.0 L287.8,485.8 L276.5,482.0 Z" fill="#f8a038" stroke="#000" stroke-width="1.45" stroke-linejoin="round" stroke-linecap="round"/>
<path d="M287.8,485.8 L297.1,497.0 L304.6,502.6 L300.8,510.0 L293.4,498.8 Z" fill="#f88c40" stroke="#000" stroke-width="1.45" stroke-linejoin="round" stroke-linecap="round"/>
<path d="M131.6,518.5 L148.4,507.3 L159.6,506.4 L163.4,516.7 L159.6,527.9 L148.4,533.5 L139.1,533.5 Z" fill="#f88838" stroke="#000" stroke-width="1.45" stroke-linejoin="round" stroke-linecap="round"/>
<path d="M152.2,507.3 L157.8,506.4 L163.4,526.0 L159.6,527.9 Z" fill="#5860e0"/>
<path d="M163.4,516.7 L170.8,531.6 L165.2,535.3 L159.6,527.9 Z" fill="#f89030" stroke="#000" stroke-width="1.45" stroke-linejoin="round" stroke-linecap="round"/>
<path d="M124.1,539.1 L131.6,536.3 L134.4,544.7 L127.9,549.4 L123.2,546.5 Z" fill="#4868f0" stroke="#000" stroke-width="1.45" stroke-linejoin="round" stroke-linecap="round"/>
<path d="M75.6,522.3 L80.3,520.4 L94.3,552.2 L89.6,555.9 Z" fill="#30b0e0"/>
<path d="M73.7,535.3 L76.5,534.4 L84.9,557.8 L81.2,559.6 Z" fill="#40c0e8"/>
<path d="M150.3,548.4 L157.8,546.5 L159.6,554.0 L152.2,556.8 Z" fill="#f88838" stroke="#000" stroke-width="1.45" stroke-linejoin="round" stroke-linecap="round"/>
<path d="M90.5,565.2 L103.6,550.3 L116.7,554.0 L122.3,576.4 L99.9,571.8 Z" fill="#f04040" stroke="#000" stroke-width="1.45" stroke-linejoin="round" stroke-linecap="round"/>
<path d="M105.5,524.1 L114.8,520.4 L124.1,526.0 L120.4,533.5 L109.2,531.6 Z" fill="#f05048" stroke="#000" stroke-width="1.45" stroke-linejoin="round" stroke-linecap="round"/>
<path d="M112.9,514.8 L126.0,511.1 L131.6,518.5 L124.1,526.0 L114.8,520.4 Z" fill="#f0405c" stroke="#000" stroke-width="1.45" stroke-linejoin="round" stroke-linecap="round"/>
<path d="M116.7,554.0 L124.1,550.3 L135.3,554.0 L133.5,563.4 L124.1,569.0 L122.3,576.4 Z" fill="#f86838" stroke="#000" stroke-width="1.45" stroke-linejoin="round" stroke-linecap="round"/>
<path d="M134.4,544.7 L144.7,542.8 L150.3,548.4 L152.2,556.8 L146.5,557.8 L139.1,561.5 L135.3,554.0 Z" fill="#f04848" stroke="#000" stroke-width="1.45" stroke-linejoin="round" stroke-linecap="round"/>
<path d="M140.9,546.5 L148.4,544.7 L150.3,552.2 L143.7,554.0 Z" fill="#6858e8" stroke="#000" stroke-width="1.45" stroke-linejoin="round" stroke-linecap="round"/>
<path d="M139.1,561.5 L146.5,557.8 L154.0,565.2 L154.0,574.6 L144.7,576.4 L137.2,569.0 Z" fill="#3848e8" stroke="#000" stroke-width="1.45" stroke-linejoin="round" stroke-linecap="round"/>
<path d="M157.8,540.9 L169.0,533.5 L180.2,535.3 L193.2,540.9 L191.4,552.2 L189.5,565.2 L174.6,569.0 L159.6,569.0 L152.2,557.8 Z" fill="#b090f8" stroke="#000" stroke-width="1.45" stroke-linejoin="round" stroke-linecap="round"/>
<path d="M193.2,540.9 L200.7,533.5 L211.9,540.9 L219.4,552.2 L221.2,563.4 L211.9,570.8 L200.7,572.7 L189.5,565.2 L191.4,552.2 Z" fill="#a898f8" stroke="#000" stroke-width="1.45" stroke-linejoin="round" stroke-linecap="round"/>
<path d="M189.5,507.3 L197.0,499.9 L211.2,499.9 L222.4,509.2 L226.1,518.5 L211.2,522.3 L204.4,522.3 L193.2,516.7 Z" fill="#3848e8" stroke="#000" stroke-width="1.45" stroke-linejoin="round" stroke-linecap="round"/>
<path d="M170.8,516.7 L178.3,512.9 L185.8,518.5 L183.9,527.9 L174.6,529.7 Z" fill="#8030e0" stroke="#000" stroke-width="1.45" stroke-linejoin="round" stroke-linecap="round"/>
<path d="M206.3,522.3 L219.4,516.7 L226.8,526.0 L223.1,533.5 L211.9,533.5 Z" fill="#9848f0" stroke="#000" stroke-width="1.45" stroke-linejoin="round" stroke-linecap="round"/>
<path d="M197.0,527.9 L206.3,522.3 L211.9,533.5 L211.9,540.9 L200.7,533.5 Z" fill="#a870f0" stroke="#000" stroke-width="1.45" stroke-linejoin="round" stroke-linecap="round"/>
<path d="M188.6,522.3 L195.1,520.4 L197.0,527.9 L189.5,530.7 Z" fill="#40e0a0" stroke="#000" stroke-width="1.45" stroke-linejoin="round" stroke-linecap="round"/>
<path d="M183.9,527.9 L188.6,522.3 L189.5,530.7 L193.2,540.9 L180.2,535.3 L174.6,529.7 Z" fill="#8848e8" stroke="#000" stroke-width="1.45" stroke-linejoin="round" stroke-linecap="round"/>
<path d="M77.5,516.7 L90.5,513.9 L99.9,512.0 L105.5,524.1" fill="none" stroke="#000" stroke-width="1.45" stroke-linejoin="round" stroke-linecap="round"/>
<path d="M90.5,513.9 L94.3,503.6" fill="none" stroke="#000" stroke-width="1.45" stroke-linejoin="round" stroke-linecap="round"/>
<path d="M99.9,512.0 L112.9,514.8" fill="none" stroke="#000" stroke-width="1.45" stroke-linejoin="round" stroke-linecap="round"/>
<path d="M109.2,531.6 L116.7,540.9 L124.1,539.1" fill="none" stroke="#000" stroke-width="1.45" stroke-linejoin="round" stroke-linecap="round"/>
<path d="M90.5,565.2 L75.6,565.2" fill="none" stroke="#000" stroke-width="1.45" stroke-linejoin="round" stroke-linecap="round"/>
<path d="M89.5,567.6 L97.9,568.6 L98.1,567.5 L89.7,566.5 Z" fill="#101010"/>
<path d="M261.6,496.1 L269.1,485.7 L276.5,481.9 L282.2,488.7 L278.4,507.3 L285.9,529.7 L282.2,531.6 L259.7,514.8 Z" fill="#f8a030" stroke="#000" stroke-width="1.45" stroke-linejoin="round" stroke-linecap="round"/>
<path d="M278.4,507.3 L282.2,488.7 L287.8,485.7 L293.4,498.8 L287.8,503.6 L297.1,518.5 L295.2,529.7 L285.9,529.7 Z" fill="#f88838" stroke="#000" stroke-width="1.45" stroke-linejoin="round" stroke-linecap="round"/>
<path d="M246.7,498.0 L257.9,496.1 L261.6,505.5 L256.0,512.9 L246.7,510.1 Z" fill="#f05080" stroke="#000" stroke-width="1.45" stroke-linejoin="round" stroke-linecap="round"/>
<path d="M255.1,515.7 L259.7,514.8 L282.2,531.6 L280.3,537.2 L263.5,537.2 L256.0,526.0 Z" fill="#6040e0" stroke="#000" stroke-width="1.45" stroke-linejoin="round" stroke-linecap="round"/>
<path d="M328.8,516.7 L340.0,505.5 L347.5,512.9 L349.4,526.0 L338.2,526.0 Z" fill="#50a0f0" stroke="#000" stroke-width="1.45" stroke-linejoin="round" stroke-linecap="round"/>
<path d="M300.8,522.3 L319.5,524.1 L321.4,557.8 L304.6,559.6 L297.1,544.7 Z" fill="#f87030" stroke="#000" stroke-width="1.45" stroke-linejoin="round" stroke-linecap="round"/>
<path d="M319.5,524.1 L349.4,527.9 L347.5,563.4 L330.7,565.2 L321.4,557.8 Z" fill="#f04040" stroke="#000" stroke-width="1.45" stroke-linejoin="round" stroke-linecap="round"/>
<path d="M321.4,537.2 L334.4,539.1 L330.7,544.7 L322.3,543.7 Z" fill="#30d0d0"/>
<path d="M323.2,544.7 L334.4,548.4 L347.5,552.2 L345.6,563.4 L330.7,565.2 L323.2,557.8 Z" fill="#30d0d0"/>
<path d="M329.9,561.1 L348.6,547.1 L346.4,544.1 L327.7,558.1 Z" fill="#f04838"/>
<path d="M303.1,526.0 L303.1,557.8 L306.0,557.8 L306.0,526.0 Z" fill="#f87838"/>
<path d="M311.3,529.7 L311.3,540.9 L312.8,540.9 L312.8,529.7 Z" fill="#40c8d0"/>
<path d="M261.6,540.9 L269.1,539.1 L272.8,546.5 L267.2,552.2 L261.6,548.4 Z" fill="#f05080" stroke="#000" stroke-width="1.45" stroke-linejoin="round" stroke-linecap="round"/>
<path d="M270.9,550.3 L278.4,546.5 L282.2,557.8 L274.7,561.5 Z" fill="#f88030" stroke="#000" stroke-width="1.45" stroke-linejoin="round" stroke-linecap="round"/>
<path d="M282.2,548.4 L293.4,546.5 L295.2,557.8 L284.0,559.6 Z" fill="#f86838" stroke="#000" stroke-width="1.45" stroke-linejoin="round" stroke-linecap="round"/>
<path d="M287.1,547.6 L288.6,559.3 L289.9,559.2 L288.4,547.4 Z" fill="#40c8d0"/>
<path d="M282.2,531.6 L285.9,529.7 L295.2,529.7 L297.1,544.7 L293.4,546.5 L282.2,548.4 L278.4,546.5 L272.8,546.5 L269.1,539.1 L280.3,537.2 Z" fill="#f05a40" stroke="#000" stroke-width="1.45" stroke-linejoin="round" stroke-linecap="round"/>
<path d="M226.1,518.5 L237.3,511.1 L241.1,524.1 L233.6,535.3 L226.1,533.5 Z" fill="#6848e8" stroke="#000" stroke-width="1.45" stroke-linejoin="round" stroke-linecap="round"/>
<path d="M239.2,509.2 L254.1,515.7 L256.0,526.0 L244.8,529.7 L240.1,524.1 Z" fill="#b080f0" stroke="#000" stroke-width="1.45" stroke-linejoin="round" stroke-linecap="round"/>
<path d="M235.5,526.0 L244.8,529.7 L256.0,526.0 L263.5,537.2 L256.0,540.9 L239.2,539.1 Z" fill="#a070f0" stroke="#000" stroke-width="1.45" stroke-linejoin="round" stroke-linecap="round"/>
<path d="M216.8,539.1 L226.1,533.5 L233.6,535.3 L235.5,544.7 L224.3,550.3 Z" fill="#7838e0" stroke="#000" stroke-width="1.45" stroke-linejoin="round" stroke-linecap="round"/>
<path d="M235.5,544.7 L239.2,539.1 L256.0,540.9 L263.5,548.4 L270.9,561.5 L256.0,569.0 L246.7,559.6 Z" fill="#9858f0" stroke="#000" stroke-width="1.45" stroke-linejoin="round" stroke-linecap="round"/>
<path d="M222.4,554.0 L235.5,548.4 L246.7,559.6 L250.4,570.8 L239.2,580.2 L224.3,574.6 L220.5,563.4 Z" fill="#8070f0" stroke="#000" stroke-width="1.45" stroke-linejoin="round" stroke-linecap="round"/>
<path d="M252.3,571.8 L265.3,565.2 L282.2,561.5 L287.8,570.8 L284.0,582.0 L274.7,589.5 L261.6,591.4 L257.9,582.0 Z" fill="#30e8c0" stroke="#000" stroke-width="1.45" stroke-linejoin="round" stroke-linecap="round"/>
<path d="M239.2,580.2 L250.4,573.6 L257.9,582.0 L259.7,591.4 L242.9,589.5 Z" fill="#9880f0" stroke="#000" stroke-width="1.45" stroke-linejoin="round" stroke-linecap="round"/>
<path d="M308.3,584.8 L313.9,585.8 L313.9,589.5 L309.2,588.6 Z" fill="#50d8d8" stroke="#000" stroke-width="1.45" stroke-linejoin="round" stroke-linecap="round"/>
<path d="M284.6,569.4 L296.7,580.6 L297.5,579.7 L285.3,568.5 Z" fill="#f8b060"/>
<path d="M313.6,571.5 L321.0,575.2 L321.7,573.9 L314.2,570.2 Z" fill="#f8c090"/>
<path d="M282.2,561.5 L297.1,559.6 L312.0,563.4 L327.0,567.1 L340.0,578.3" fill="none" stroke="#000" stroke-width="1.45" stroke-linejoin="round" stroke-linecap="round"/>
<path d="M327.0,567.1 L336.3,567.1 L333.5,574.6 Z" fill="#f8c090" stroke="#000" stroke-width="1.45" stroke-linejoin="round" stroke-linecap="round"/>
<path d="M116.7,634.6 L133.5,627.2 L135.3,619.7 L139.1,612.2 L148.4,614.1 L152.2,630.9 L163.4,638.4 L165.2,649.6 L174.6,657.0 L177.4,672.0 L152.2,666.4 L127.9,651.4 L114.8,638.4 Z" fill="#50a8f8" stroke="#000" stroke-width="1.45" stroke-linejoin="round" stroke-linecap="round"/>
<path d="M116.7,634.6 L126.0,642.1 L152.2,660.8 L174.6,670.1 L177.4,673.8 L152.2,667.3 L126.0,651.4 L113.9,638.4 Z" fill="#40e0e0"/>
<path d="M126.0,569.3 L137.2,567.4 L152.2,578.6 L157.8,591.7 L154.0,606.6 L148.4,614.1 L139.1,612.2 L131.6,612.2 L124.1,597.3 L123.2,582.3 Z" fill="#9038f0" stroke="#000" stroke-width="1.45" stroke-linejoin="round" stroke-linecap="round"/>
<path d="M139.1,561.8 L148.4,559.0 L154.0,565.5 L154.0,573.0 L144.7,575.8 L138.1,569.3 Z" fill="#3848e8" stroke="#000" stroke-width="1.45" stroke-linejoin="round" stroke-linecap="round"/>
<path d="M154.0,578.6 L159.6,571.1 L171.8,571.1 L172.7,582.3 L170.8,591.7 L159.6,593.5 Z" fill="#5838e8" stroke="#000" stroke-width="1.45" stroke-linejoin="round" stroke-linecap="round"/>
<path d="M161.5,597.3 L170.8,594.5 L178.3,599.1 L183.9,608.5 L176.4,612.2 L161.5,608.5 Z" fill="#60e0e0" stroke="#000" stroke-width="1.45" stroke-linejoin="round" stroke-linecap="round"/>
<path d="M174.6,569.3 L189.5,565.5 L200.7,573.0 L210.0,582.3 L217.5,597.3 L217.5,606.6 L204.4,615.9 L189.5,612.2 L178.3,599.1 L171.8,591.7 L172.7,582.3 Z" fill="#9858f0" stroke="#000" stroke-width="1.45" stroke-linejoin="round" stroke-linecap="round"/>
<path d="M150.3,614.1 L159.6,609.4 L176.4,612.2 L178.3,619.7 L167.1,629.0 L152.2,630.9 Z" fill="#5870f0" stroke="#000" stroke-width="1.45" stroke-linejoin="round" stroke-linecap="round"/>
<path d="M151.6,617.6 L166.6,628.8 L167.6,627.4 L152.7,616.2 Z" fill="#f88838"/>
<path d="M167.1,629.0 L178.3,619.7 L182.0,623.4 L193.2,638.4 L182.0,645.8 L174.6,649.6 L170.8,642.1 Z" fill="#8080f0" stroke="#000" stroke-width="1.45" stroke-linejoin="round" stroke-linecap="round"/>
<path d="M152.2,630.9 L167.1,629.0 L170.8,642.1 L164.3,644.0 L163.4,638.4 Z" fill="#6070f0" stroke="#000" stroke-width="1.45" stroke-linejoin="round" stroke-linecap="round"/>
<path d="M164.3,644.0 L171.8,645.8 L174.6,653.3 L167.1,653.3 Z" fill="#3048e8" stroke="#000" stroke-width="1.45" stroke-linejoin="round" stroke-linecap="round"/>
<path d="M182.0,612.2 L189.5,612.2 L191.4,619.7 L183.9,619.7 Z" fill="#7060f0" stroke="#000" stroke-width="1.45" stroke-linejoin="round" stroke-linecap="round"/>
<path d="M191.4,623.4 L200.7,619.7 L208.2,627.2 L206.3,638.4 L197.0,640.2 L191.4,632.8 Z" fill="#4038e0" stroke="#000" stroke-width="1.45" stroke-linejoin="round" stroke-linecap="round"/>
<path d="M198.8,618.7 L204.4,616.9 L213.8,627.2 L210.0,629.0 Z" fill="#c0f0c0"/>
<path d="M189.5,649.6 L200.7,640.2 L206.3,638.4 L200.7,675.7 L182.0,675.7 Z" fill="#e050e0"/>
<path d="M174.6,657.0 L182.0,645.8 L193.2,638.4 L189.5,649.6 L183.9,673.8 L177.4,672.0 Z" fill="#a080f0" stroke="#000" stroke-width="1.45" stroke-linejoin="round" stroke-linecap="round"/>
<path d="M126.0,559.9 L135.3,558.1 L137.2,565.5 L127.9,566.5 Z" fill="#f88838" stroke="#000" stroke-width="1.45" stroke-linejoin="round" stroke-linecap="round"/>
<path d="M113.1,627.9 L129.9,624.5 L129.6,623.1 L112.8,626.4 Z" fill="#101010"/>
<path d="M93.5,579.1 L112.1,612.7 L113.8,611.8 L95.1,578.2 Z" fill="#7028c8"/>
<path d="M124.1,597.3 L131.6,612.2 L135.3,619.7" fill="none" stroke="#000" stroke-width="1.45" stroke-linejoin="round" stroke-linecap="round" stroke-dasharray="4 3"/>
<path d="M157.8,591.7 L159.6,609.4" fill="none" stroke="#000" stroke-width="1.45" stroke-linejoin="round" stroke-linecap="round"/>
<path d="M213.1,627.2 L233.6,615.0 L244.8,612.2 L256.0,615.9 L267.2,625.3 L274.7,638.4 L284.0,655.2 L282.2,660.8 L256.0,672.0 L228.0,678.5 L198.1,680.4 L198.1,649.6 L207.5,632.8 Z" fill="#a47cf8" stroke="#000" stroke-width="1.45" stroke-linejoin="round" stroke-linecap="round"/>
<path d="M198.1,645.8 L207.5,632.8 L213.1,627.2 L203.7,675.7 L198.1,679.4 Z" fill="#e050e0"/>
<path d="M203.7,573.0 L220.5,571.1 L224.3,582.3 L211.2,584.2 Z" fill="#9848e8" stroke="#000" stroke-width="1.45" stroke-linejoin="round" stroke-linecap="round"/>
<path d="M218.7,582.3 L226.1,578.6 L228.0,589.8 L220.5,591.7 Z" fill="#3030e0" stroke="#000" stroke-width="1.45" stroke-linejoin="round" stroke-linecap="round"/>
<path d="M216.8,595.4 L233.6,589.8 L237.3,601.0 L226.1,606.6 L218.7,604.7 Z" fill="#a040f0" stroke="#000" stroke-width="1.45" stroke-linejoin="round" stroke-linecap="round"/>
<path d="M205.6,615.9 L220.5,608.5 L226.1,614.1 L213.1,627.2 L207.5,623.4 Z" fill="#3848e8" stroke="#000" stroke-width="1.45" stroke-linejoin="round" stroke-linecap="round"/>
<path d="M225.2,606.6 L230.8,605.7 L230.8,612.2 L226.1,613.1 Z" fill="#f88838"/>
<path d="M270.0,592.6 L289.6,649.6" fill="none" stroke="#000" stroke-width="1.3" stroke-linejoin="round" stroke-linecap="round" stroke-dasharray="1.2 2.2"/>
<path d="M252.4,610.7 L297.2,594.8 L297.0,594.1 L252.2,610.0 Z" fill="#c850e0"/>
</g>
<linearGradient id="rimB2" gradientUnits="userSpaceOnUse" x1="352" y1="520" x2="140" y2="670"><stop offset="0" stop-color="#f0a0d0"/><stop offset="0.3" stop-color="#f0b090"/><stop offset="0.55" stop-color="#f8d870"/><stop offset="0.8" stop-color="#f8c0a0"/><stop offset="1" stop-color="#f060c0"/></linearGradient>
<linearGradient id="rimB" gradientUnits="userSpaceOnUse" x1="73" y1="400" x2="353" y2="680"><stop offset="0" stop-color="#e05060"/><stop offset="0.22" stop-color="#8060e8"/><stop offset="0.36" stop-color="#50e0a0"/><stop offset="0.5" stop-color="#6080f0"/><stop offset="0.62" stop-color="#e8b0e8"/><stop offset="0.8" stop-color="#f0d080"/><stop offset="1" stop-color="#f070c0"/></linearGradient>
<ellipse cx="213" cy="540" rx="137.6" ry="136.6" fill="none" stroke="url(#rimB)" stroke-width="2.2" stroke-opacity="0.75"/>
<ellipse cx="213" cy="540" rx="139.3" ry="138.3" fill="none" stroke="#181820" stroke-width="1.7"/>
<path d="M348.7,521.1 A137.0,136.0 0 0 1 128.7,647.2" fill="none" stroke="url(#rimB2)" stroke-width="2.6"/>
<path d="M347.5,528.3 A135.0,134.0 0 0 1 135.6,649.8" fill="none" stroke="#101018" stroke-width="1.5" stroke-dasharray="6 2 3 1.5 9 2"/>
</g>
<rect x="76" y="297.3" width="92.7" height="20.5" fill="#fff"/>
<rect x="80.3" y="308.6" width="86.8" height="3.8999999999999773" fill="#000"/>
<text class="sans" x="78.8" y="302.1" font-size="16.2" textLength="57" lengthAdjust="spacingAndGlyphs" fill="#000">200 µm</text>
<rect x="75.5" y="678.4" width="84.6" height="3.3999999999999773" fill="#000"/>
<text class="sans" x="76.7" y="674.1" font-size="16.2" textLength="56" lengthAdjust="spacingAndGlyphs" fill="#000">200 µm</text>
<g transform="translate(294.2,319.5)">
<g clip-path="url(#keyclip)"><use href="#keyfill"/></g>
<use href="#keytri" fill="none" stroke="#000" stroke-width="0.8"/>
<text class="sans" font-weight="bold" font-size="7.6" fill="#222" x="-11.3" y="11.1" textLength="20" lengthAdjust="spacing">0 0 1</text>
<text class="sans" font-weight="bold" font-size="7.6" fill="#222" x="74.4" y="11.1" textLength="18.6" lengthAdjust="spacing">1 0 1</text>
<text class="sans" font-weight="bold" font-size="7.6" fill="#222" x="65.2" y="-79.2" textLength="18.6" lengthAdjust="spacing">1 1 1</text>
</g>
<g transform="translate(297.2,680.3)">
<g clip-path="url(#keyclip)"><use href="#keyfill"/></g>
<use href="#keytri" fill="none" stroke="#000" stroke-width="0.8"/>
<text class="sans" font-weight="bold" font-size="7.6" fill="#222" x="-11.3" y="11.1" textLength="20" lengthAdjust="spacing">0 0 1</text>
<text class="sans" font-weight="bold" font-size="7.6" fill="#222" x="74.4" y="11.1" textLength="18.6" lengthAdjust="spacing">1 0 1</text>
<text class="sans" font-weight="bold" font-size="7.6" fill="#222" x="65.2" y="-79.2" textLength="18.6" lengthAdjust="spacing">1 1 1</text>
</g>
<g transform="translate(473.3,274.0)">
<g clip-path="url(#bigclip)">
<rect x="-5" y="-240" width="280" height="245" fill="#0000ff"/>
<path d="M103.7,-113.5 C104.6,-112.6 104.0,-111.4 108.9,-108.0 C113.9,-104.6 125.4,-97.2 133.4,-93.3 C141.4,-89.4 148.3,-86.6 156.7,-84.5 C165.1,-82.4 175.0,-79.8 183.6,-80.5 C192.2,-81.2 198.4,-84.7 208.1,-88.7 C217.8,-92.7 233.6,-101.4 241.9,-104.3 C250.3,-107.2 253.2,-105.8 258.2,-106.2 C263.2,-106.6 269.4,-106.5 271.7,-106.5 L296.7,-114.0 L296.7,-254.0 L66.7,-254.0 Z" fill="#0a9169"/>
<path d="M109.7,-119.5 C110.5,-118.6 109.6,-117.7 114.7,-114.3 C119.8,-110.9 132.7,-102.7 140.4,-99.2 C148.1,-95.6 154.1,-94.5 160.7,-93.0 C167.3,-91.5 171.7,-89.3 180.0,-90.5 C188.3,-91.7 200.7,-96.0 210.4,-99.9 C220.1,-103.8 230.7,-111.0 238.4,-113.9 C246.1,-116.8 251.0,-116.5 256.6,-117.1 C262.1,-117.7 269.2,-117.4 271.7,-117.5 L296.7,-114.0 L296.7,-254.0 L66.7,-254.0 Z" fill="#1ef51e"/>
<path d="M118.7,-128.5 C119.6,-127.6 119.2,-126.3 124.0,-123.2 C128.8,-120.1 139.4,-113.0 147.4,-109.7 C155.4,-106.3 166.5,-104.1 171.9,-103.1 C177.3,-102.1 174.0,-101.9 180.0,-103.8 C186.0,-105.7 198.7,-110.5 208.1,-114.3 C217.4,-118.1 228.2,-123.8 236.1,-126.5 C243.9,-129.2 249.3,-129.9 255.2,-130.7 C261.1,-131.5 268.9,-131.4 271.7,-131.5 L296.7,-114.0 L296.7,-254.0 L66.7,-254.0 Z" fill="#aeff00"/>
<path d="M129.2,-138.2 C130.1,-137.3 129.9,-135.8 134.5,-133.0 C139.1,-130.2 149.5,-123.4 156.7,-121.3 C163.9,-119.2 171.1,-119.8 177.7,-120.2 C184.3,-120.6 189.4,-121.0 196.4,-123.7 C203.4,-126.4 212.7,-132.6 219.7,-136.5 C226.7,-140.4 232.9,-144.4 238.4,-147.0 C243.9,-149.6 247.4,-150.9 252.9,-152.0 C258.5,-153.1 268.6,-153.2 271.7,-153.5 L296.7,-114.0 L296.7,-254.0 L66.7,-254.0 Z" fill="#ffd700"/>
<polygon points="148.7,-157.5 191.2,-200.0 196.4,-194.7 202.2,-188.0 204.7,-172.3 192.7,-158.5 180.4,-145.7 170.4,-146.3 161.2,-149.5 153.7,-152.3" fill="#ff9100"/>
<polygon points="190.6,2.0 190.6,0.0 201.1,-15.1 216.7,-18.8 231.4,-21.4 248.7,-19.7 271.7,-17.5 271.7,2.0" fill="#0a9169"/>
<polygon points="81.5,1.0 81.9,-9.5 83.0,-11.5 84.7,-8.5 87.5,1.0" fill="#0a9169"/>
</g>
<use href="#bigtri" fill="none" stroke="#3a3a20" stroke-width="0.6" stroke-opacity="0.7"/>
</g>
<g transform="translate(476.0,657.2)">
<g clip-path="url(#bigclipB)">
<rect x="-5" y="-240" width="280" height="245" fill="#0000ff"/>
<path d="M98.0,-108.2 C98.9,-107.3 99.6,-105.7 103.3,-102.9 C107.0,-100.2 114.5,-94.9 120.0,-91.7 C125.5,-88.5 129.7,-86.2 136.0,-83.9 C142.3,-81.6 150.5,-79.1 158.0,-77.7 C165.5,-76.3 173.0,-74.5 181.0,-75.5 C189.0,-76.5 198.8,-81.5 206.0,-83.9 C213.2,-86.4 217.9,-88.3 224.0,-90.2 C230.1,-92.1 237.1,-94.5 242.7,-95.5 C248.3,-96.5 252.8,-96.3 257.7,-96.5 C262.6,-96.7 269.6,-96.7 272.0,-96.7 L294.0,-117.2 L294.0,-257.2 L64.0,-257.2 Z" fill="#0a9169"/>
<path d="M108.0,-118.2 C108.9,-117.3 108.1,-115.6 113.3,-112.9 C118.5,-110.2 132.0,-104.8 139.3,-102.2 C146.6,-99.6 151.2,-98.3 157.0,-97.2 C162.8,-96.1 168.6,-95.3 174.3,-95.5 C180.0,-95.7 185.7,-96.8 191.0,-98.2 C196.3,-99.6 200.2,-101.2 206.0,-103.9 C211.8,-106.6 219.6,-111.2 226.0,-114.2 C232.4,-117.3 239.6,-120.6 244.3,-122.2 C249.0,-123.8 249.7,-123.5 254.3,-123.9 C258.9,-124.3 269.1,-124.6 272.0,-124.7 L294.0,-117.2 L294.0,-257.2 L64.0,-257.2 Z" fill="#1ef51e"/>
<path d="M181.0,-191.2 C181.8,-190.4 183.5,-188.0 186.0,-186.2 C188.5,-184.4 193.2,-183.4 196.0,-180.5 C198.8,-177.6 201.3,-172.8 202.7,-168.9 C204.1,-165.0 204.4,-161.1 204.5,-157.2 C204.6,-153.3 204.2,-149.3 203.3,-145.5 C202.4,-141.7 200.8,-137.4 199.0,-134.2 C197.2,-131.0 196.5,-128.7 192.7,-126.5 C188.9,-124.3 181.6,-122.5 176.0,-121.2 C170.4,-119.9 164.6,-118.5 159.3,-118.9 C154.0,-119.3 148.7,-121.8 144.0,-123.7 C139.3,-125.6 134.1,-128.5 131.0,-130.5 C127.9,-132.5 126.4,-135.1 125.5,-136.0 L114.0,-157.2 L164.0,-207.2 Z" fill="#aeff00"/>
<path d="M199.0,-209.2 C199.9,-208.3 201.3,-206.3 204.3,-203.9 C207.3,-201.5 212.5,-198.0 217.0,-194.7 C221.5,-191.4 227.7,-185.4 231.0,-183.9 C234.3,-182.4 235.0,-185.4 237.0,-185.9 C239.0,-186.5 239.0,-186.4 242.7,-187.2 C246.4,-188.0 256.3,-190.1 259.0,-190.7 L294.0,-191.2 L294.0,-257.2 L164.0,-257.2 Z" fill="#0a9169"/>
<polygon points="219.0,-224.9 254.0,-225.4 254.0,-247.2 219.0,-247.2" fill="#0000ff"/>
<path d="M72.4,-81.5 C73.2,-80.7 74.4,-79.6 77.4,-76.5 C80.4,-73.4 86.3,-69.0 90.5,-63.1 C94.7,-57.2 98.8,-48.1 102.8,-41.2 C106.7,-34.3 111.6,-27.2 114.2,-21.9 C116.8,-16.7 117.6,-13.4 118.5,-9.7 C119.4,-6.0 119.2,-2.2 119.4,0.1 C119.6,2.3 119.5,3.2 119.5,3.8 L119.5,4.0 L-6.0,4.0 L-6.0,-2.0 Z" fill="#0a9169"/>
<path d="M63.6,-72.8 C64.4,-72.0 65.3,-71.3 68.6,-67.8 C71.9,-64.3 79.3,-57.6 83.5,-51.7 C87.7,-45.8 91.2,-38.5 94.0,-32.4 C96.8,-26.3 99.0,-20.3 100.2,-14.9 C101.4,-9.5 101.2,-3.0 101.4,0.1 C101.6,3.2 101.5,3.2 101.5,3.8 L101.5,4.0 L-6.0,4.0 L-6.0,-2.0 Z" fill="#1ef51e"/>
<path d="M51.7,-61.4 C52.5,-60.6 53.7,-59.5 56.7,-56.4 C59.7,-53.3 65.9,-48.4 69.5,-42.9 C73.1,-37.5 76.2,-29.2 78.3,-23.7 C80.3,-18.2 81.1,-13.7 81.8,-9.7 C82.5,-5.7 82.2,-2.2 82.3,0.1 C82.4,2.3 82.4,3.2 82.4,3.8 L82.4,4.0 L-6.0,4.0 L-6.0,-2.0 Z" fill="#aeff00"/>
<path d="M40.4,-50.0 C41.2,-49.2 42.7,-48.1 45.4,-45.0 C48.1,-41.9 53.4,-36.6 56.4,-31.6 C59.4,-26.6 61.9,-20.2 63.4,-14.9 C64.8,-9.6 64.8,-3.0 65.1,0.1 C65.4,3.2 65.2,3.2 65.2,3.8 L65.2,4.0 L-6.0,4.0 L-6.0,-2.0 Z" fill="#ffd700"/>
<path d="M21.1,-31.7 C21.9,-30.9 23.8,-29.5 26.1,-26.7 C28.4,-23.9 33.0,-18.3 34.9,-14.9 C36.8,-11.5 37.2,-8.7 37.7,-6.2 C38.2,-3.7 37.9,-1.6 38.0,0.1 C38.1,1.8 38.1,3.2 38.1,3.8 L38.1,4.0 L-6.0,4.0 L-6.0,-2.0 Z" fill="#ff9100"/>
</g>
<use href="#bigtriB" fill="none" stroke="#3a3a20" stroke-width="0.6" stroke-opacity="0.7"/>
</g>
<rect x="761.8" y="99.40" width="28.4" height="17.85" fill="#ff0000"/>
<rect x="761.8" y="116.95" width="28.4" height="17.85" fill="#ff4500"/>
<rect x="761.8" y="134.50" width="28.4" height="17.85" fill="#ff9100"/>
<rect x="761.8" y="152.05" width="28.4" height="17.85" fill="#ffd700"/>
<rect x="761.8" y="169.60" width="28.4" height="17.85" fill="#aeff00"/>
<rect x="761.8" y="187.15" width="28.4" height="17.85" fill="#1ef51e"/>
<rect x="761.8" y="204.70" width="28.4" height="17.85" fill="#0a9169"/>
<rect x="761.8" y="222.25" width="28.4" height="17.85" fill="#0000ff"/>
<rect x="761.8" y="116.05" width="28.4" height="1.8" fill="#000"/>
<rect x="761.8" y="133.60" width="28.4" height="1.8" fill="#000"/>
<rect x="761.8" y="151.15" width="28.4" height="1.8" fill="#000"/>
<rect x="761.8" y="168.70" width="28.4" height="1.8" fill="#000"/>
<rect x="761.8" y="186.25" width="28.4" height="1.8" fill="#000"/>
<rect x="761.8" y="203.80" width="28.4" height="1.8" fill="#000"/>
<rect x="761.8" y="221.35" width="28.4" height="1.8" fill="#000"/>
<rect x="761.8" y="99.4" width="28.4" height="140.40" fill="none" stroke="#000" stroke-width="0.9"/>
<text class="sans" font-size="12" fill="#2a2a33" x="795.4" y="120.55" textLength="29.6" lengthAdjust="spacingAndGlyphs">6.673</text>
<text class="sans" font-size="12" fill="#2a2a33" x="795.4" y="138.10" textLength="29.6" lengthAdjust="spacingAndGlyphs">4.565</text>
<text class="sans" font-size="12" fill="#2a2a33" x="795.4" y="155.65" textLength="29.6" lengthAdjust="spacingAndGlyphs">3.123</text>
<text class="sans" font-size="12" fill="#2a2a33" x="795.4" y="173.20" textLength="29.6" lengthAdjust="spacingAndGlyphs">2.137</text>
<text class="sans" font-size="12" fill="#2a2a33" x="795.4" y="190.75" textLength="29.6" lengthAdjust="spacingAndGlyphs">1.462</text>
<text class="sans" font-size="12" fill="#2a2a33" x="795.4" y="208.30" textLength="29.6" lengthAdjust="spacingAndGlyphs">1.000</text>
<text class="sans" font-size="12" fill="#2a2a33" x="795.4" y="225.85" textLength="29.6" lengthAdjust="spacingAndGlyphs">0.684</text>
<rect x="762.4" y="464.30" width="28.4" height="17.85" fill="#ff0000"/>
<rect x="762.4" y="481.85" width="28.4" height="17.85" fill="#ff4500"/>
<rect x="762.4" y="499.40" width="28.4" height="17.85" fill="#ff9100"/>
<rect x="762.4" y="516.95" width="28.4" height="17.85" fill="#ffd700"/>
<rect x="762.4" y="534.50" width="28.4" height="17.85" fill="#aeff00"/>
<rect x="762.4" y="552.05" width="28.4" height="17.85" fill="#1ef51e"/>
<rect x="762.4" y="569.60" width="28.4" height="17.85" fill="#0a9169"/>
<rect x="762.4" y="587.15" width="28.4" height="17.85" fill="#0000ff"/>
<rect x="762.4" y="480.95" width="28.4" height="1.8" fill="#000"/>
<rect x="762.4" y="498.50" width="28.4" height="1.8" fill="#000"/>
<rect x="762.4" y="516.05" width="28.4" height="1.8" fill="#000"/>
<rect x="762.4" y="533.60" width="28.4" height="1.8" fill="#000"/>
<rect x="762.4" y="551.15" width="28.4" height="1.8" fill="#000"/>
<rect x="762.4" y="568.70" width="28.4" height="1.8" fill="#000"/>
<rect x="762.4" y="586.25" width="28.4" height="1.8" fill="#000"/>
<rect x="762.4" y="464.3" width="28.4" height="140.40" fill="none" stroke="#000" stroke-width="0.9"/>
<text class="sans" font-size="12" fill="#2a2a33" x="796.0" y="485.45" textLength="29.6" lengthAdjust="spacingAndGlyphs">6.673</text>
<text class="sans" font-size="12" fill="#2a2a33" x="796.0" y="503.00" textLength="29.6" lengthAdjust="spacingAndGlyphs">4.565</text>
<text class="sans" font-size="12" fill="#2a2a33" x="796.0" y="520.55" textLength="29.6" lengthAdjust="spacingAndGlyphs">3.123</text>
<text class="sans" font-size="12" fill="#2a2a33" x="796.0" y="538.10" textLength="29.6" lengthAdjust="spacingAndGlyphs">2.137</text>
<text class="sans" font-size="12" fill="#2a2a33" x="796.0" y="555.65" textLength="29.6" lengthAdjust="spacingAndGlyphs">1.462</text>
<text class="sans" font-size="12" fill="#2a2a33" x="796.0" y="573.20" textLength="29.6" lengthAdjust="spacingAndGlyphs">1.000</text>
<text class="sans" font-size="12" fill="#2a2a33" x="796.0" y="590.75" textLength="29.6" lengthAdjust="spacingAndGlyphs">0.684</text>
<text class="sans" x="680.1 692.8 700.9 713.6 721.6" y="28.7" font-size="24.9" fill="#111">1 1 1</text>
<text class="sans" x="445.0 458.8 465.8 479.6 487.6" y="302.9" font-size="24.9" fill="#111">0 0 1</text>
<text class="sans" x="709.7 722.4 729.4 743.2 751.2" y="302.9" font-size="24.9" fill="#111">1 0 1</text>
<text class="sans" x="485.4" y="72" font-size="27.8" fill="#111" textLength="114.2" lengthAdjust="spacingAndGlyphs" stroke="#fff" stroke-width="0.45" paint-order="fill stroke">Drawing</text>
<text class="sans" x="481.4" y="109.3" font-size="27.8" fill="#111" textLength="124.4" lengthAdjust="spacingAndGlyphs" stroke="#fff" stroke-width="0.45" paint-order="fill stroke">Direction</text>
<text class="sans" x="524.8" y="332.3" font-size="32" fill="#111" textLength="162" lengthAdjust="spacingAndGlyphs" stroke="#fff" stroke-width="0.45" paint-order="fill stroke">Max. 3.551</text>
<text class="serif" x="436.6" y="376.4" font-size="25" fill="#111">(a)</text>
<text class="sans" x="681.5 694.2 702.3 715.0 723.0" y="413.4" font-size="24.9" fill="#111">1 1 1</text>
<text class="sans" x="447.4 461.2 468.2 482.0 490.0" y="686.3" font-size="24.9" fill="#111">0 0 1</text>
<text class="sans" x="711.5 724.2 731.2 745.0 753.0" y="686.3" font-size="24.9" fill="#111">1 0 1</text>
<text class="sans" x="486.4" y="457" font-size="27.8" fill="#111" textLength="114.2" lengthAdjust="spacingAndGlyphs" stroke="#fff" stroke-width="0.45" paint-order="fill stroke">Drawing</text>
<text class="sans" x="482.4" y="494.3" font-size="27.8" fill="#111" textLength="124.4" lengthAdjust="spacingAndGlyphs" stroke="#fff" stroke-width="0.45" paint-order="fill stroke">Direction</text>
<text class="sans" x="524.8" y="715.7" font-size="32" fill="#111" textLength="164.2" lengthAdjust="spacingAndGlyphs" stroke="#fff" stroke-width="0.45" paint-order="fill stroke">Max. 3.888</text>
<text class="serif" x="436.2" y="756.4" font-size="25" fill="#111">(b)</text>
</g>
</svg>
</body></html>
